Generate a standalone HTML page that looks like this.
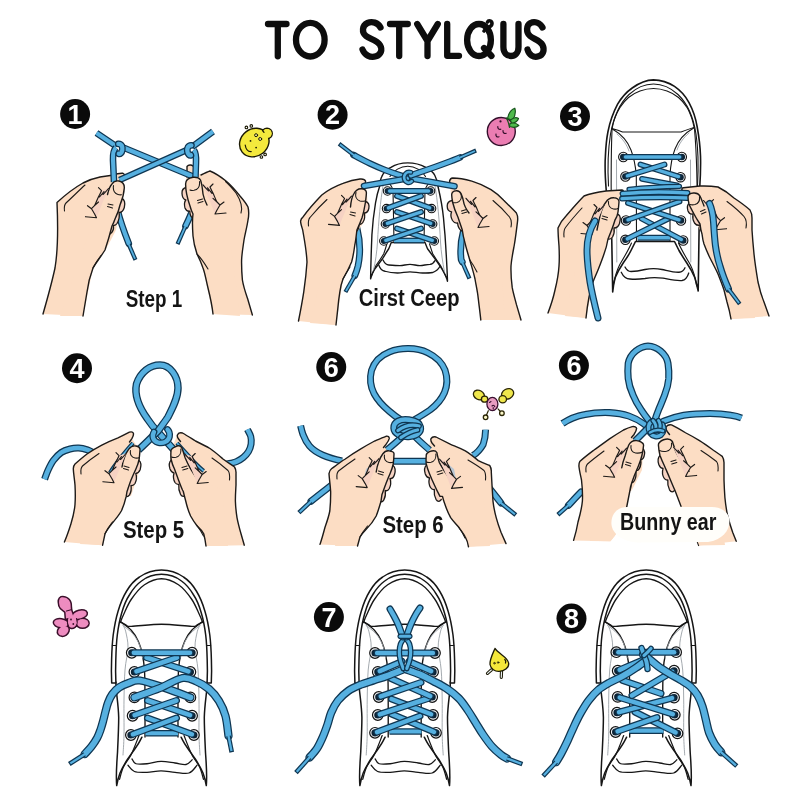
<!DOCTYPE html>
<html><head><meta charset="utf-8"><title>How to tie shoelaces</title>
<style>
html,body{margin:0;padding:0;background:#fff;}
body{width:800px;height:800px;overflow:hidden;font-family:"Liberation Sans",sans-serif;}
svg{display:block;will-change:transform;}
.sk{fill:#fcddc4;stroke:#1d1a18;stroke-width:1.4;stroke-linejoin:round;stroke-linecap:round;}
.skf{fill:#fcddc4;stroke:none;}
.sk2{fill:#f6d3c3;stroke:#1d1a18;stroke-width:1.3;stroke-linejoin:round;stroke-linecap:round;}
.ln{fill:none;stroke:#1d1a18;stroke-width:1.4;stroke-linejoin:round;stroke-linecap:round;}
.lt{fill:none;stroke:#1d1a18;stroke-width:1.1;stroke-linejoin:round;stroke-linecap:round;}
.sh{fill:#fff;stroke:#161616;stroke-width:1.6;stroke-linejoin:round;stroke-linecap:round;}
.shl{fill:none;stroke:#161616;stroke-width:1.3;stroke-linejoin:round;stroke-linecap:round;}
.gl{fill:none;stroke:#9aa0a6;stroke-width:0.9;stroke-linejoin:round;stroke-linecap:round;}
.ey{fill:#2a3a4a;stroke:#161616;stroke-width:1.1;}
.lbl{font-family:"Liberation Sans",sans-serif;font-weight:bold;fill:#141414;}
.num{font-family:"Liberation Sans",sans-serif;font-weight:bold;fill:#fff;text-anchor:middle;}
.ttl{fill:none;stroke:#0d0d0d;stroke-width:6.3;stroke-linecap:round;stroke-linejoin:round;}
</style></head><body>
<svg width="800" height="800" viewBox="0 0 800 800">
<rect width="800" height="800" fill="#ffffff"/>
<!-- 05_defs.svg -->
<defs>
<g id="shoeB">
<!-- body -->
<path fill="#fff" stroke="none" d="M-44.8,215.6 C-45.8,205 -44.6,192 -44,182.5 C-43.4,170 -42.8,158 -42.8,147.5 C-43,137 -44.6,127 -45.5,117.75 L-47,100 L-46,60 L-32,22 L0,3 L32,22 L46,60 L47,100 L45.5,117.75 C44.6,127 43,137 42.8,147.5 C42.8,158 43.4,170 44,182.5 C44.6,192 45.8,205 44.8,215.6 C44,211 43,207 41.5,203 C39.5,198.5 37,194 33.8,189 C31,185 28,181 25,176.5 C23,174 21.5,171 19.6,167.2 L-19.6,167.2 C-21.5,171 -23,174 -25,176.5 C-28,181 -31,185 -33.8,189 C-37,194 -39.5,198.5 -41.5,203 C-43,207 -44,211 -44.8,215.6 Z"/>
<path class="shl" style="stroke-width:1.5" d="M-45.6,112 L-45.5,117.75 C-44.6,127 -43,137 -42.8,147.5 C-42.8,158 -43.4,170 -44,182.5 C-44.6,192 -45.8,205 -44.8,215.6 C-44,211 -43,207 -41.5,203 C-39.5,198.5 -37,194 -33.8,189 C-31,185 -28,181 -25,176.5 C-23,174 -21.5,171 -19.6,167.2"/>
<path class="shl" style="stroke-width:1.5" d="M45.6,112 L45.5,117.75 C44.6,127 43,137 42.8,147.5 C42.8,158 43.4,170 44,182.5 C44.6,192 45.8,205 44.8,215.6 C44,211 43,207 41.5,203 C39.5,198.5 37,194 33.8,189 C31,185 28,181 25,176.5 C23,174 21.5,171 19.6,167.2"/>
<!-- sole band -->
<path class="sh" style="stroke-width:1.5" d="M-49.8,113 C-50.2,105 -50.2,97 -49.9,90 C-49.7,82 -49.3,73 -48.3,65 C-47.2,57 -45.8,49 -43.5,41.5 C-41.5,34.5 -38.8,27.5 -35,21.25 C-31.8,15.8 -27.5,10.5 -22,7 C-15.5,2.5 -8,0 0,0 C8,0 15.5,2.5 22,7 C27.5,10.500 31.8,15.8 35,21.250 C38.8,27.5 41.5,34.5 43.5,41.5 C45.8,49 47.2,57 48.3,65 C49.3,73 49.7,82 49.9,90 C50.2,97 50.2,105 49.8,113 L45.6,113 C46,105 46,97 45.700,90 C45.500,82 45.200,73 44.200,65 C43.200,57 41.900,50 39.800,43 C38,36.500 35.500,30 31.800,24.500 C28.800,19.500 25,14.500 20,11 C14.500,6.500 7.500,4.200 0,4.200 C-7.500,4.200 -14.500,6.500 -20,11 C-25,14.500 -28.800,19.500 -31.800,24.500 C-35.500,30 -38,36.500 -39.800,43 C-41.900,50 -43.200,57 -44.200,65 C-45.200,73 -45.500,82 -45.700,90 C-46,97 -46,105 -45.600,113 Z"/>
<path class="shl" style="stroke-width:1" d="M-49.200,75.500 H-45 M49.200,75.500 H45"/>
<!-- toe cap arc -->
<path d="M-41.20,52.50 C-40.67,51.20 -39.87,48.62 -38.00,44.70 C-36.13,40.78 -33.50,33.98 -30.00,29.00 C-26.50,24.02 -22.00,18.18 -17.00,14.80 C-12.00,11.42 -5.67,8.70 0.00,8.70 C5.67,8.70 12.00,11.42 17.00,14.80 C22.00,18.18 26.50,24.02 30.00,29.00 C33.50,33.98 36.13,40.78 38.00,44.70 C39.87,48.62 40.67,51.20 41.20,52.50" class="shl" style="stroke-width:1.35"/>
<!-- toe cap seam -->
<path d="M-41.20,51.70 C-40.28,52.22 -37.53,54.02 -35.70,54.80 C-33.88,55.58 -36.20,56.50 -30.25,56.40 C-24.30,56.30 -10.08,54.20 0.00,54.20 C10.08,54.20 24.30,56.30 30.25,56.40 C36.20,56.50 33.88,55.58 35.70,54.80 C37.53,54.02 40.28,52.22 41.20,51.70" class="shl" style="stroke-width:1.35"/>
<!-- facing inner edges -->
<path d="M-41.20,51.70 C-39.38,53.13 -33.25,57.04 -30.25,60.30 C-27.25,63.56 -25.02,67.34 -23.20,71.25 C-21.38,75.16 -20.33,78.96 -19.30,83.75 C-18.27,88.54 -17.47,92.29 -17.00,100.00 C-16.53,107.71 -16.58,118.83 -16.50,130.00 C-16.42,141.17 -16.50,160.83 -16.50,167.00" class="shl" style="stroke-width:1.35"/>
<path d="M41.20,51.70 C39.38,53.13 33.25,57.04 30.25,60.30 C27.25,63.56 25.02,67.34 23.20,71.25 C21.38,75.16 20.33,78.96 19.30,83.75 C18.27,88.54 17.47,92.29 17.00,100.00 C16.53,107.71 16.58,118.83 16.50,130.00 C16.42,141.17 16.50,160.83 16.50,167.00" class="shl" style="stroke-width:1.35"/>
<!-- stitches -->
<path d="M-38.00,56.00 C-37.62,56.98 -36.45,58.32 -35.70,61.90 C-34.95,65.48 -33.37,71.15 -33.50,77.50 C-33.63,83.85 -35.83,91.25 -36.50,100.00 C-37.17,108.75 -37.33,119.17 -37.50,130.00 C-37.67,140.83 -37.33,155.83 -37.50,165.00 C-37.67,174.17 -38.33,181.67 -38.50,185.00" class="gl"/>
<path d="M38.00,56.00 C37.62,56.98 36.45,58.32 35.70,61.90 C34.95,65.48 33.37,71.15 33.50,77.50 C33.63,83.85 35.83,91.25 36.50,100.00 C37.17,108.75 37.33,119.17 37.50,130.00 C37.67,140.83 37.33,155.83 37.50,165.00 C37.67,174.17 38.33,181.67 38.50,185.00" class="gl"/>
<path d="M-39.00,55.00 C-37.25,56.50 -31.33,60.67 -28.50,64.00 C-25.67,67.33 -23.58,71.00 -22.00,75.00 C-20.42,79.00 -19.50,85.83 -19.00,88.00" class="gl"/>
<path d="M39.00,55.00 C37.25,56.50 31.33,60.67 28.50,64.00 C25.67,67.33 23.58,71.00 22.00,75.00 C20.42,79.00 19.50,85.83 19.00,88.00" class="gl"/>
<!-- flap bands -->
<path d="M-22.50,165.60 C-23.79,168.73 -27.65,179.17 -30.25,184.40 C-32.85,189.63 -36.14,192.83 -38.10,197.00 C-40.06,201.17 -41.35,207.33 -42.00,209.40" class="shl" style="stroke-width:1.25"/>
<path d="M22.50,165.60 C23.79,168.73 27.65,179.17 30.25,184.40 C32.85,189.63 36.14,192.83 38.10,197.00 C40.06,201.17 41.35,207.33 42.00,209.40" class="shl" style="stroke-width:1.25"/>
<!-- heel lines -->
<path d="M-29.50,189.00 C-28.83,189.79 -28.00,192.96 -25.50,193.75 C-23.00,194.54 -18.67,194.14 -14.50,193.75 C-10.33,193.36 -5.17,191.53 -0.50,191.40 C4.17,191.28 9.33,192.48 13.50,193.00 C17.67,193.52 21.63,195.03 24.50,194.50 C27.37,193.97 29.67,190.58 30.70,189.80" class="shl" style="stroke-width:1.3"/>
<path d="M-33.50,195.30 C-32.43,196.33 -30.27,200.33 -27.10,201.50 C-23.93,202.67 -18.93,202.42 -14.50,202.30 C-10.07,202.18 -5.17,200.80 -0.50,200.80 C4.17,200.80 8.83,201.93 13.50,202.30 C18.17,202.67 23.83,204.17 27.50,203.00 C31.17,201.83 34.17,196.58 35.50,195.30" class="shl" style="stroke-width:1.3"/>
</g>
<g id="eye"><circle r="5.3" fill="#f7f8fa" stroke="#141414" stroke-width="1.2"/><circle r="3.6" fill="#0d2436"/></g>
<g id="creaseR">
<path d="M9.5,7 L17,9.7 C18,12 19,14 20,15.7 C21.5,19 22.5,22 24,24.7 L27,27.7 C26,29.5 25,31 24,32.7 L22,36.7 C20.5,33 18.5,28 16.5,23 C14,17 11.5,11.5 9.5,7 Z" fill="#f6d2c3" stroke="none"/>
<path class="lt" style="stroke-width:1.15" d="M20,6.7 L17,9.7 C18,12 19,14 20,15.7 C21.5,19 22.5,22 24,24.7 L27,27.7 L31,24.7 M27,27.7 C26,29.5 25,31 24,32.7 L22,36.7 L33,35.7 M10,7.5 C11.5,9.5 13.500,11.500 15.500,13.500 M14.500,10.500 L19,16 M20,21 L24,24.700"/>
</g>
</defs>

<!-- 10_title.svg -->
<g class="ttl">
<path d="M268,24 H286.5 M277.8,24 V56.3"/>
<ellipse cx="310.3" cy="39.7" rx="14.3" ry="16.8"/>
<path d="M380.5,27.5 C378,22.5 372,21 367.5,23 C362,25.5 361.5,32.5 366,36 C370,39 377,40 380,45 C383,50 380.5,55 376,56.3 C370,58 364.5,55 362.5,49.5"/>
<path d="M390,24 H407.8 M399.2,24 V56"/>
<path d="M417.2,24 L427.5,41 L437.8,24 M427.5,41 V56"/>
<path d="M447.2,24 V55.8 H459"/>
<ellipse cx="479" cy="40" rx="11.9" ry="16"/>
<path d="M484,48 L491.5,56" />
<path d="M484,31 C486,27 492,28 492,23.5 C492,20.5 488.5,20 487.5,22" style="stroke-width:3.6"/>
<path d="M503.4,24 V47 C503.4,59 518.5,59 518.5,47 V24"/>
<path d="M542.5,27.5 C540,22.5 534.5,21 530.5,23 C526,25.5 526,32.5 530,36 C533.5,39 540,40 542.5,45 C545,50 543,55 538.5,56.3 C533.5,58 529,55 527.5,49.5"/>
</g>

<!-- 20_badges.svg -->
<g>
<circle cx="75.1" cy="114" r="15" fill="#0a0a0a"/><text class="num" x="75.1" y="123.60" font-size="27">1</text>
<circle cx="332.6" cy="114.75" r="15" fill="#0a0a0a"/><text class="num" x="332.6" y="124.35" font-size="27">2</text>
<circle cx="575" cy="116.25" r="15" fill="#0a0a0a"/><text class="num" x="575" y="125.85" font-size="27">3</text>
<circle cx="77" cy="368.25" r="15" fill="#0a0a0a"/><text class="num" x="77" y="377.85" font-size="27">4</text>
<circle cx="331.25" cy="367.1" r="15" fill="#0a0a0a"/><text class="num" x="331.25" y="376.70" font-size="27">6</text>
<circle cx="573.9" cy="365.5" r="15" fill="#0a0a0a"/><text class="num" x="573.9" y="375.10" font-size="27">6</text>
<circle cx="328.9" cy="617.1" r="15" fill="#0a0a0a"/><text class="num" x="328.9" y="626.70" font-size="27">7</text>
<circle cx="571.5" cy="618.6" r="15" fill="#0a0a0a"/><text class="num" x="571.5" y="628.20" font-size="27">8</text>
</g>

<!-- 31_c1.svg -->
<g id="c1">
<!-- dangling lace ends (behind hands) -->
<path d="M117.5,210 C120.5,222 125,234 128.750,243.5" fill="none" stroke="#0f3652" stroke-width="6.70" stroke-linecap="round" stroke-linejoin="round"/><path d="M117.5,210 C120.5,222 125,234 128.750,243.5" fill="none" stroke="#56b0e0" stroke-width="4.20" stroke-linecap="round" stroke-linejoin="round"/>
<path d="M128.75,244.40 L135.48,259.85" stroke="#0f3652" stroke-width="4.20" fill="none"/><path d="M128.55,243.94 L135.00,258.75" stroke="#56b0e0" stroke-width="1.80" fill="none"/>
<path d="M193,208 C191,215 188,221 185.5,226" fill="none" stroke="#0f3652" stroke-width="6.70" stroke-linecap="round" stroke-linejoin="round"/><path d="M193,208 C191,215 188,221 185.5,226" fill="none" stroke="#56b0e0" stroke-width="4.20" stroke-linecap="round" stroke-linejoin="round"/>
<path d="M185.30,226.50 L177.51,244.10" stroke="#0f3652" stroke-width="4.20" fill="none"/><path d="M185.50,226.04 L178.00,243.00" stroke="#56b0e0" stroke-width="1.80" fill="none"/>
<!-- left hand -->
<path class="skf" d="M43,314 C47,300 52,282 55,268 C58,250 58,225 57,202.500 C63,197 74,188 83,183 C89,180 95,178 100,177 L112,175.300 C116,174 120,173 123,173.300 C125,174 125,176 124,177.500 L121,182 L124,190 L116,230 C113,236 109,244 105,250 C100,258 95,264 93,268 C90,276 88,284 87,292 L83,316 Z"/>
<path class="sk2" d="M121.500,198.500 C124.500,199 125.500,203 124.300,207.500 C123.300,211 121,212.500 119,212.500 C119.800,216 119,220 117,223.500 C116,225 114.500,225.500 113.500,225.500 C113.800,229 112.500,232.500 110,234 L106,232 L114,205 Z"/>
<path class="ln" d="M43,314 C47,300 52,282 55,268 C58,250 58,225 57,202.500 C63,197 74,188 83,183 C89,180 95,178 100,177 L112,175.300 C116,174 120,173 123,173.300 C125,174 125,176 124,177.500 L121.500,181.500"/>
<path class="lt" d="M64.5,211 C64,207 64.5,204.5 66,203 C72,197.5 79,190.5 85,185"/>
<!-- right hand -->
<path class="skf" d="M213,314 C212,305 210,296 208,288 C206,280 205,273 203,268 C201,262 199,258 197,254 C195,248 193.5,242 193,236 L192,218 L185,205 L183,192 L186,182 L187,166 C189,164.5 191,164.5 193,166 L197,172 L201,175 C204,173.5 207,172 210,171 C216,173.500 221,177 226,181 C231,185 236,191 240,196 C243,199.500 246,203 248,207 C249,211 249,215 248,220 C247,227 245,234 244,240 C243,247 241.800,254 241.600,260 C241.500,267 241.800,274 242.400,280 C243.500,287 246,294 248,300 L252.400,315 Z"/>
<path class="sk2" d="M186.500,187.500 C183,188 181.800,190.500 182,193.500 C182.200,197 183.500,199.500 185.800,200 C184.200,202 184.200,205 185,208 C186,210.500 188,211.500 189.800,211.200 C189.800,214 191,217 193,218.500 L197,214 L192,190 Z"/>
<path class="ln" d="M187,177 L187,166.500 C188.500,164.500 191.500,164.500 193,166 L196.500,172 M201,175 C204,173.500 207,172 210,171 C216,173.500 221,177 226,181 C231,185 236,191 240,196 C243,199.500 246,203 248,207 C249,211 249,215 248,220 C247,227 245,234 244,240 C243,247 241.800,254 241.600,260 C241.500,267 241.800,274 242.400,280 C243.500,287 246,294 248,300 L252.400,315"/>
<path class="lt" d="M241,213 C243,207 241,201 236,193 C232.5,188.5 229,184.5 225.5,181.5"/>
<!-- crossing laces -->
<path d="M96.5,133 L116.5,146.5 M122,147 L193,176.5" fill="none" stroke="#0f3652" stroke-width="6.60" stroke-linecap="butt" stroke-linejoin="round"/><path d="M96.5,133 L116.5,146.5 M122,147 L193,176.5" fill="none" stroke="#56b0e0" stroke-width="4.10" stroke-linecap="butt" stroke-linejoin="round"/>
<path d="M119.5,180 L189,149" fill="none" stroke="#0f3652" stroke-width="6.60" stroke-linecap="butt" stroke-linejoin="round"/><path d="M119.5,180 L189,149" fill="none" stroke="#56b0e0" stroke-width="4.10" stroke-linecap="butt" stroke-linejoin="round"/>
<path d="M213,131.5 L192,147" fill="none" stroke="#0f3652" stroke-width="6.60" stroke-linecap="butt" stroke-linejoin="round"/><path d="M213,131.5 L192,147" fill="none" stroke="#56b0e0" stroke-width="4.10" stroke-linecap="butt" stroke-linejoin="round"/>
<path d="M116,147.5 C113.5,150 112.8,155 113,160 L114,182" fill="none" stroke="#0f3652" stroke-width="6.60" stroke-linecap="butt" stroke-linejoin="round"/><path d="M116,147.5 C113.5,150 112.8,155 113,160 L114,182" fill="none" stroke="#56b0e0" stroke-width="4.10" stroke-linecap="butt" stroke-linejoin="round"/>
<path d="M194,150 C196,153 196.2,158 196,162 L195.5,177" fill="none" stroke="#0f3652" stroke-width="6.60" stroke-linecap="butt" stroke-linejoin="round"/><path d="M194,150 C196,153 196.2,158 196,162 L195.5,177" fill="none" stroke="#56b0e0" stroke-width="4.10" stroke-linecap="butt" stroke-linejoin="round"/>
<!-- knots -->
<path d="M118.3,143.8 C121.6,143.6 122.8,146.8 122.3,150 C121.8,153.2 120,154.3 118.8,153.8" fill="none" stroke="#0f3652" stroke-width="6.80" stroke-linecap="round" stroke-linejoin="round"/><path d="M118.3,143.8 C121.6,143.6 122.8,146.8 122.3,150 C121.8,153.2 120,154.3 118.8,153.8" fill="none" stroke="#56b0e0" stroke-width="4.30" stroke-linecap="round" stroke-linejoin="round"/>
<path d="M191.4,145.3 C188.1,145.1 186.9,148.3 187.4,151.5 C187.9,154.7 189.7,155.800 190.900,155.300" fill="none" stroke="#0f3652" stroke-width="6.80" stroke-linecap="round" stroke-linejoin="round"/><path d="M191.4,145.3 C188.1,145.1 186.9,148.3 187.4,151.5 C187.9,154.7 189.7,155.800 190.900,155.300" fill="none" stroke="#56b0e0" stroke-width="4.30" stroke-linecap="round" stroke-linejoin="round"/>
<!-- thumbs on top -->
<path class="skf" d="M107.500,194 C108.500,190 110,186 112,184 C113.500,181.500 116,180.500 119,181 C122.500,181.800 124.500,184 124.300,188 C124,193 123,198 120,205 C119,210 117,215 115,219 C114,222 113,224 112,226 C110,234 107,244 105,250 L96,262 L93,268 L83,316 L60,316 L90,230 Z"/>
<path class="ln" d="M107.500,194.500 C108.500,190 110,186 112,184 C113.500,181.500 116,180.500 119,181 C122.500,181.800 124.500,184 124.300,188 C124,193 123,198 120,205 C119,210 117,215 115,219 C114,222 113,224 112,226 C110,234 107,244 105,250 C100,258 95,264 93,268 C90,276 88,284 87,292 L83,316"/>
<path class="lt" d="M113.500,185.500 C112.800,190 114.500,193.500 118,194.500 C119.500,195 120.500,195 121.500,194.800 M108,204 L113,205 M107.500,206.500 L112.500,208 M93,268 C96,262 99,258 101,255.500"/>
<path class="skf" d="M207,205 C205,201 203.500,197 203,194 C202.500,189 202,184 200.500,180 C199,177.500 196,177 193,177.300 C189,178 185.600,180 185.600,184 C185.600,190 186.500,196 190,206 C191,210 192,212 193,214 L193,236 C193.500,242 195,248 197,254 L203,268 L213,314 L240,316 L230,240 Z"/>
<path class="ln" d="M207,205 C205,201 203.500,197 203,194 C202.500,189 202,184 200.500,180 C199,177.500 196,177 193,177.300 C189,178 185.600,180 185.600,184 C185.600,190 186.500,196 190,206 C191,210 192,212 193,214 C192,221 192.500,229 193,236 C193.500,242 195,248 197,254 C199,258 201,262 203,268 C205,273 206,280 208,288 C210,296 212,305 213,314"/>
<path class="lt" d="M199.500,181.500 C200,186 198,189.500 194,190.300 C192,190.600 191,190.500 190,190 M197.500,200.500 L202.500,199 M198,203 L203,201.500 M197,254 C201,258 205,264 208,269"/>
<!-- creases -->
<use href="#creaseR" transform="translate(118.5,181) scale(-1,1)"/>
<use href="#creaseR" transform="translate(193,177.3)"/>
</g>

<!-- 32_c2.svg -->
<g id="c2">
<!-- shoe -->
<path class="sh" style="stroke-width:1.4" d="M379.6,186.5 C380,181 381,178 381.9,176.4 C384,171.5 387,169 390.9,167.4 C396,164.2 402,162.9 407.75,162.9 C414,162.9 420,164.2 425.75,167.4 C430,169.5 433,172 434.75,175.25 C436.5,178.5 437.5,182 438,186.5 C440.5,197 442.5,208 443.5,218 C444.5,230 445,235 445,235 C446,250 447,265 447.5,281.25 C446.5,277 444.5,273.5 442.5,270 C440,266 437.5,262.5 435,258.75 C432.5,255.5 430,252 427.5,248.75 L425,242.5 L391.25,242.5 L388.75,248.75 C386.500,252 384.500,255.500 382.500,258.750 C380,262 377.500,265.500 375,268.750 C373,272 371.500,275 370.600,278.750 C370.800,265 371.300,250 371.900,235 C372.500,225 374,212 375.500,203 C376.500,197 378,191 379.600,186.500 Z"/>
<path class="shl" style="stroke-width:1.1" d="M390,176.500 C393.500,170.500 400.500,166.250 407.750,166.250 C415,166.250 422,170.500 425.500,176.500"/>
<path class="shl" style="stroke-width:1.3" d="M383,260 C384.500,263 386.500,265 388.750,265 C392.500,265.300 396.500,265.600 400,265.600 C403.500,265.500 406.500,264.400 410,264.400 C413.500,264.400 416.500,265.600 420,265.600 C423.500,265.500 426.500,264.400 430,264.400 C432.500,264 434,262.500 435,260.600"/>
<path class="shl" style="stroke-width:1.3" d="M378.750,265 C380,268.500 382.500,271 385,271.250 C389,272.500 393.500,273 397.500,273 C401.500,273 406,271.900 410,271.900 C414,271.900 418.500,273 422.500,273 C426,273 429.500,273 432.500,272.500 C436,271.500 438.500,269 440,266.250"/>
<path class="shl" style="stroke-width:1.1" d="M386.900,243.750 C386,247 385,250.500 383.750,253.750 C381.500,257.500 379,261.500 376.250,265 C374.500,268 373,271.500 371.900,275 M429.500,243.750 C430.500,247 431.500,250.500 432.750,253.750 C435,257.500 437.500,261.500 440.250,265 C442,268 443.500,271.500 446,276.500"/>
<path class="gl" d="M383,186 C380.500,200 378.500,222 377.500,242 C376.800,252 375.500,262 373.500,270 M435,186 C437.500,200 439.500,222 440.500,242 C441.200,252 442.500,262 444.500,272"/>
<path class="shl" style="stroke-width:1.1" d="M382.500,185 C386,180.500 390,182 393,190 L394,242.500 M435.500,185 C432,180.500 428,182 425,190 L424,242.500"/>
<!-- eyelets -->
<g><circle cx="387.5" cy="191" r="4.2" fill="#f7f8fa" stroke="#141414" stroke-width="1.1"/><circle cx="387.5" cy="191" r="2.9" fill="#0d2436"/><circle cx="386.5" cy="208.6" r="4.2" fill="#f7f8fa" stroke="#141414" stroke-width="1.1"/><circle cx="386.5" cy="208.6" r="2.9" fill="#0d2436"/><circle cx="385.4" cy="224" r="4.2" fill="#f7f8fa" stroke="#141414" stroke-width="1.1"/><circle cx="385.4" cy="224" r="2.9" fill="#0d2436"/><circle cx="383.8" cy="241" r="4.2" fill="#f7f8fa" stroke="#141414" stroke-width="1.1"/><circle cx="383.8" cy="241" r="2.9" fill="#0d2436"/><circle cx="430.6" cy="191" r="4.2" fill="#f7f8fa" stroke="#141414" stroke-width="1.1"/><circle cx="430.6" cy="191" r="2.9" fill="#0d2436"/><circle cx="431.6" cy="208.6" r="4.2" fill="#f7f8fa" stroke="#141414" stroke-width="1.1"/><circle cx="431.6" cy="208.6" r="2.9" fill="#0d2436"/><circle cx="432.7" cy="224" r="4.2" fill="#f7f8fa" stroke="#141414" stroke-width="1.1"/><circle cx="432.7" cy="224" r="2.9" fill="#0d2436"/><circle cx="434.3" cy="241" r="4.2" fill="#f7f8fa" stroke="#141414" stroke-width="1.1"/><circle cx="434.3" cy="241" r="2.9" fill="#0d2436"/></g>
<!-- shoe laces -->
<path d="M394,240.500 H424" fill="none" stroke="#0f3652" stroke-width="5.70" stroke-linecap="butt" stroke-linejoin="round"/><path d="M394,240.500 H424" fill="none" stroke="#56b0e0" stroke-width="3.20" stroke-linecap="butt" stroke-linejoin="round"/>
<path d="M432.31,240.33 L397.00,228.50" fill="none" stroke="#0f3652" stroke-width="5.90" stroke-linecap="round" stroke-linejoin="round"/><path d="M432.31,240.33 L397.00,228.50" fill="none" stroke="#56b0e0" stroke-width="3.40" stroke-linecap="round" stroke-linejoin="round"/>
<path d="M385.79,240.33 L421.00,228.50" fill="none" stroke="#0f3652" stroke-width="5.90" stroke-linecap="round" stroke-linejoin="round"/><path d="M385.79,240.33 L421.00,228.50" fill="none" stroke="#56b0e0" stroke-width="3.40" stroke-linecap="round" stroke-linejoin="round"/>
<path d="M430.71,223.33 L397.00,212.00" fill="none" stroke="#0f3652" stroke-width="5.90" stroke-linecap="round" stroke-linejoin="round"/><path d="M430.71,223.33 L397.00,212.00" fill="none" stroke="#56b0e0" stroke-width="3.40" stroke-linecap="round" stroke-linejoin="round"/>
<path d="M387.39,223.33 L421.00,212.00" fill="none" stroke="#0f3652" stroke-width="5.90" stroke-linecap="round" stroke-linejoin="round"/><path d="M387.39,223.33 L421.00,212.00" fill="none" stroke="#56b0e0" stroke-width="3.40" stroke-linecap="round" stroke-linejoin="round"/>
<path d="M429.63,207.88 L397.00,196.00" fill="none" stroke="#0f3652" stroke-width="5.90" stroke-linecap="round" stroke-linejoin="round"/><path d="M429.63,207.88 L397.00,196.00" fill="none" stroke="#56b0e0" stroke-width="3.40" stroke-linecap="round" stroke-linejoin="round"/>
<path d="M388.47,207.88 L421.00,196.00" fill="none" stroke="#0f3652" stroke-width="5.90" stroke-linecap="round" stroke-linejoin="round"/><path d="M388.47,207.88 L421.00,196.00" fill="none" stroke="#56b0e0" stroke-width="3.40" stroke-linecap="round" stroke-linejoin="round"/>
<path d="M389.60,191.00 L428.50,191.00" fill="none" stroke="#0f3652" stroke-width="5.90" stroke-linecap="round" stroke-linejoin="round"/><path d="M389.60,191.00 L428.50,191.00" fill="none" stroke="#56b0e0" stroke-width="3.40" stroke-linecap="round" stroke-linejoin="round"/>
<!-- hanging ends -->
<path d="M357,228 C360,240 361,252 358,266 C357,270 356,273 354.800,275.700" fill="none" stroke="#0f3652" stroke-width="6.80" stroke-linecap="round" stroke-linejoin="round"/><path d="M357,228 C360,240 361,252 358,266 C357,270 356,273 354.800,275.700" fill="none" stroke="#56b0e0" stroke-width="4.30" stroke-linecap="round" stroke-linejoin="round"/>
<path d="M354.80,275.70 L345.40,292.04" stroke="#0f3652" stroke-width="4.20" fill="none"/><path d="M355.05,275.27 L346.00,291.00" stroke="#56b0e0" stroke-width="1.80" fill="none"/>
<path d="M463.400,231 C461,240 460,250 461.200,259.800 L462.300,262" fill="none" stroke="#0f3652" stroke-width="6.80" stroke-linecap="round" stroke-linejoin="round"/><path d="M463.400,231 C461,240 460,250 461.200,259.800 L462.300,262" fill="none" stroke="#56b0e0" stroke-width="4.30" stroke-linecap="round" stroke-linejoin="round"/>
<path d="M462.60,263.00 L469.48,278.60" stroke="#0f3652" stroke-width="4.20" fill="none"/><path d="M462.40,262.54 L469.00,277.50" stroke="#56b0e0" stroke-width="1.80" fill="none"/>
<!-- left hand -->
<path class="sk" style="stroke:none" d="M298.500,321 C300.500,311 302.500,300 303.800,291.600 C305.500,280 306.500,270 307,262 C306.500,250 304,238 302.700,230 C301.500,226 300.500,223 300.600,221 C301,219 301.500,218 302.700,217.300 C308,210 315,202 321.800,195 C328,190 336,186 343,183.400 C349,181 355,179.500 360,179 C362.500,178.800 365,179.500 365.500,181 L368,205 L364,222 L357,232 C356,238 355.500,242 354.800,245 C354,251 353,257 351.600,262 C349,268 346,274 343,279 C341.500,283 340.500,287 339.900,291.600 C339,297 338.300,303 337.800,308.600 L336,325 Z"/>
<path class="sk2" d="M365.600,201.500 C368.500,202 369.500,205 368.800,208.500 C368.200,211.500 366.200,213 364.200,213 C365.200,216.500 364.500,220 362.800,222.500 C361.800,224 360.200,224.500 359,224 C359,227.500 358.200,230 356.500,231.500 L352,228 L358,205 Z"/>
<path class="ln" d="M298.500,321 C300.500,311 302.500,300 303.800,291.600 C305.500,280 306.500,270 307,262 C306.500,250 304,238 302.700,230 C301.500,226 300.500,223 300.600,221 C301,219 301.500,218 302.700,217.300 C308,210 315,202 321.800,195 C328,190 336,186 343,183.400 C349,181 355,179.500 360,179 C362.500,178.800 365,179.500 365.500,181 C365.800,183.500 364.500,185.500 363,187"/>
<path class="lt" d="M308.5,226 C308,221 308.5,219 310,217.5 C315,211.5 321,205 327,199.5"/>
<!-- right hand -->
<path class="sk" style="stroke:none" d="M480.800,320 C480,312 479,305 478.200,298 C477.500,291 476,285 475,279 C473.500,272 471.500,266 469.700,259.800 C468,254 466.500,249 465.500,245 L463.400,232.200 L456,222 L452,205 L449.600,181 C450,179 451,178.200 452.700,178 C459,178 466,179.500 471.800,181.200 C478.500,183.200 485,186 491,189.700 C495.500,192.500 500,196.500 503.700,200.300 C508,204.500 513,209 516.400,213 C517.500,215 518,218 517.500,221.600 C516.500,230 515.500,238 514.300,245 C513,252 511.500,259 511,266 C510.800,273 511.200,280 512.200,287.400 C513.200,293 515,299 516.400,304.400 L521,320 Z"/>
<path class="sk2" d="M452.200,200.500 C449.200,201 447.200,203 447.200,206 C447.200,209.500 449,211.500 451.600,211.800 C450.500,214.500 451,218 452.500,220.500 C453.800,222.500 456,223.300 457.600,223 C457.800,226.500 459.500,229.500 461.800,231 L466,227 L460,204 Z"/>
<path class="ln" d="M455,187 C451.500,185.500 449.500,183.500 449.600,181 C450,179 451,178.200 452.700,178 C459,178 466,179.500 471.800,181.200 C478.500,183.200 485,186 491,189.700 C495.500,192.500 500,196.500 503.700,200.300 C508,204.500 513,209 516.400,213 C517.500,215 518,218 517.500,221.600 C516.500,230 515.500,238 514.300,245 C513,252 511.500,259 511,266 C510.800,273 511.200,280 512.200,287.400 C513.200,293 515,299 516.400,304.400 L521,320"/>
<path class="lt" d="M511,227 C512,222 511,219 509.5,217 C505,211.5 499,205.5 493,200.5"/>
<!-- main laces -->
<path d="M454.5,186.3 L411.500,178.500" fill="none" stroke="#0f3652" stroke-width="6.60" stroke-linecap="round" stroke-linejoin="round"/><path d="M454.5,186.3 L411.500,178.500" fill="none" stroke="#56b0e0" stroke-width="4.10" stroke-linecap="round" stroke-linejoin="round"/>
<path d="M408.00,177.50 C407.00,177.25 405.83,177.25 402.00,176.00 C398.17,174.75 390.33,172.08 385.00,170.00 C379.67,167.92 375.25,166.00 370.00,163.50 C364.75,161.00 356.25,156.42 353.50,155.00" fill="none" stroke="#0f3652" stroke-width="6.60" stroke-linecap="round" stroke-linejoin="round"/><path d="M408.00,177.50 C407.00,177.25 405.83,177.25 402.00,176.00 C398.17,174.75 390.33,172.08 385.00,170.00 C379.67,167.92 375.25,166.00 370.00,163.50 C364.75,161.00 356.25,156.42 353.50,155.00" fill="none" stroke="#56b0e0" stroke-width="4.10" stroke-linecap="round" stroke-linejoin="round"/>
<path d="M353.80,155.20 L339.05,143.76" stroke="#0f3652" stroke-width="4.20" fill="none"/><path d="M354.20,155.51 L340.00,144.50" stroke="#56b0e0" stroke-width="1.80" fill="none"/>
<path d="M364,186 L407,178.500" fill="none" stroke="#0f3652" stroke-width="6.60" stroke-linecap="round" stroke-linejoin="round"/><path d="M364,186 L407,178.500" fill="none" stroke="#56b0e0" stroke-width="4.10" stroke-linecap="round" stroke-linejoin="round"/>
<path d="M411.00,175.30 C415.00,173.92 428.50,169.30 435.00,167.00 C441.50,164.70 445.83,163.08 450.00,161.50 C454.17,159.92 458.33,158.17 460.00,157.50" fill="none" stroke="#0f3652" stroke-width="6.60" stroke-linecap="round" stroke-linejoin="round"/><path d="M411.00,175.30 C415.00,173.92 428.50,169.30 435.00,167.00 C441.50,164.70 445.83,163.08 450.00,161.50 C454.17,159.92 458.33,158.17 460.00,157.50" fill="none" stroke="#56b0e0" stroke-width="4.10" stroke-linecap="round" stroke-linejoin="round"/>
<path d="M459.70,157.60 L476.10,150.52" stroke="#0f3652" stroke-width="4.20" fill="none"/><path d="M459.24,157.80 L475.00,151.00" stroke="#56b0e0" stroke-width="1.80" fill="none"/>
<path d="M410.8,172.3 C406.5,171 403.3,175 404.3,179 C405.3,182.8 409.5,183.800 411.800,181.200" fill="none" stroke="#0f3652" stroke-width="5.00" stroke-linecap="round" stroke-linejoin="round"/><path d="M410.8,172.3 C406.5,171 403.3,175 404.3,179 C405.3,182.8 409.5,183.800 411.800,181.200" fill="none" stroke="#56b0e0" stroke-width="2.50" stroke-linecap="round" stroke-linejoin="round"/>
<!-- thumbs -->
<path class="skf" d="M350.500,206.700 C351,201 352,197 353.700,194 C355.500,190.500 358.500,188.500 361.500,188.700 C364.500,189 366.500,190.500 366.400,193 C366.300,196 365.800,199 365.400,202.500 C364.500,208 363.500,213 362.200,217.300 C360.500,222 358.500,226.500 356.900,230 L354.800,245 L351.600,262 L343,279 L336,325 L310,323 L330,240 Z"/>
<path class="ln" d="M350.500,207 C351,201 352,197 353.700,194 C355.500,190.500 358.500,188.500 361.500,188.700 C364.500,189 366.500,190.500 366.400,193 C366.300,196 365.800,199 365.400,202.500 C364.500,208 363.500,213 362.200,217.300 C360.500,222 358.500,226.500 356.900,230 C356,238 355.500,242 354.800,245 C354,251 353,257 351.600,262 C349,268 346,274 343,279 C341.500,283 340.500,287 339.900,291.600 C339,297 338.300,303 337.800,308.600 L336,325"/>
<path class="lt" d="M356,192.500 C355,196.500 356.500,200 360,201 C362,201.500 364,201.200 365,201 M350.500,212 L355.500,213 M350,214.500 L355,216 M343,279 C345.500,274 348,270 350,267"/>
<path class="skf" d="M469,213 C466,209 464,205 463.400,201 C463,198 462,196 461.200,194 C460,191.500 458,190.500 456,190.800 C453.500,191 451.500,192.500 451.700,195 C451.800,197.500 452.200,200 452.700,202.500 C454,208 456,213 458,217.300 C459.500,222 461,226 462.300,230 L465.500,245 L469.700,259.800 L475,279 L480.800,320 L505,320 L500,250 Z"/>
<path class="ln" d="M469,213 C466,209 464,205 463.400,201 C463,198 462,196 461.200,194 C460,191.500 458,190.500 456,190.800 C453.500,191 451.500,192.500 451.700,195 C451.800,197.500 452.200,200 452.700,202.500 C454,208 456,213 458,217.300 C459.500,222 461,226 462.300,230 C463,236 464.500,241 465.500,245 C466.500,249 468,254 469.700,259.800 C471.500,266 473.500,272 475,279 C476,285 477.500,291 478.200,298 C479,305 480,312 480.800,320"/>
<path class="lt" d="M461,194 C462,198 460.500,201.500 457,202.500 C455,203 453.500,202.800 452.500,202.500 M461.500,211 L466.500,209.500 M462,213.500 L467,212 M469.700,259.800 C472,263 475,268 477,272"/>
<!-- creases -->
<use href="#creaseR" transform="translate(361.5,188.7) scale(-1,1)"/>
<use href="#creaseR" transform="translate(456,190.8)"/>
</g>

<!-- 33_c3.svg -->
<g id="c3">
<!-- shoe -->
<path class="sh" d="M606.200,190 C605,175 604.800,165 605.400,156 C605.800,147 606.500,139 607.900,132 C610,121 613.500,112 617.600,104.200 C621.500,97.500 626.500,92 632.200,88 C638.500,83.500 646,80 653.400,79.900 C661,80 668.500,82.500 674.500,86.400 C680.500,90.500 685.500,96 689,102.600 C693,110 695.800,118.500 697.200,127 C699,137 700.200,147 700.500,156 C700.800,166 700.500,176 699.700,188 L698.200,291 C697,286 696,281.500 694.750,277.500 C692.500,272 689.500,267 686.500,262.500 C683.500,258 681,254 679,250.500 L674.500,241.500 L635.500,241.500 L631,250.500 C629,254.500 626.500,258.500 623.500,262.500 C620.500,267 617.500,272 615.250,277.500 C614,281.500 613.200,286 612.700,292 L611.500,225 Z"/>
<path class="shl" style="stroke-width:1.1" d="M608.500,186 C607.500,168 608,150 610.500,134 C613.500,118 619,104 629,94.500 C636,88 645,84 653.500,84 C662,84 671,88 678,94.500 C688,104 693.500,118 696,134 C698.500,150 698.500,168 697.500,186"/>
<path class="shl" style="stroke-width:1.1" d="M611.500,225 C611,190 610.800,160 612,130 M697,225 C697.500,190 697.200,160 694.500,129"/>
<path d="M612.00,129.00 C612.42,127.33 613.17,122.58 614.50,119.00 C615.83,115.42 617.67,111.08 620.00,107.50 C622.33,103.92 625.17,100.25 628.50,97.50 C631.83,94.75 635.83,92.50 640.00,91.00 C644.17,89.50 649.00,88.50 653.50,88.50 C658.00,88.50 662.83,89.50 667.00,91.00 C671.17,92.50 675.17,94.75 678.50,97.50 C681.83,100.25 684.75,103.92 687.00,107.50 C689.25,111.08 690.78,115.50 692.00,119.00 C693.22,122.50 693.92,126.92 694.30,128.50" class="shl" style="stroke-width:1.1"/>
<path class="shl" style="stroke-width:1.1" d="M612,128.600 C616,129.500 619.500,130.500 622.500,132 H681 C685,130.500 689,129 694,127.500"/>
<path class="shl" style="stroke-width:1.1" d="M612,128.800 C621,134 628,142 631,150 C634,158 635.500,166 636.300,175 L636.500,241 M694,127.800 C685,133 678,141 675,149 C672,157 670.500,166 670,175 L670,241"/>
<path class="gl" d="M616.500,160 L616.800,262 M690.500,160 L690.800,262 M617,134 C623,139 627,145 629,151 M689,133 C683,138 679,144 677,150"/>
<path class="shl" style="stroke-width:1.100" d="M631.500,243 C628.500,250 624,257.500 619.800,264.500 C616.500,271 614.500,278 613.300,286 M678.500,243 C681.500,250 686,257.500 690.200,264.500 C693.500,271 695.500,278 696.700,286"/>
<path class="shl" style="stroke-width:1.300" d="M625,267 C626.500,270 628,271.500 631,271.500 C635,271.500 640,270.750 645,269.500 C650,268.500 657,268.500 662,269.500 C667,270.500 673,272.500 679,272.250 C682,272 684,270 685,267.750"/>
<path class="shl" style="stroke-width:1.300" d="M621.250,272.250 C623,276 626,279 630,279 C635,279.500 640,279.200 645,278.500 C650,277.500 658,277.500 663,278.200 C668,279 675,281 682,280.500 C685.500,280 687.500,277 688.750,273"/>
<!-- eyelets -->
<g><circle cx="623.3" cy="157" r="4.7" fill="#f7f8fa" stroke="#141414" stroke-width="1.1"/><circle cx="623.3" cy="157" r="3.3" fill="#0d2436"/><circle cx="625.4" cy="176.5" r="4.7" fill="#f7f8fa" stroke="#141414" stroke-width="1.1"/><circle cx="625.4" cy="176.5" r="3.3" fill="#0d2436"/><circle cx="626" cy="220.5" r="4.7" fill="#f7f8fa" stroke="#141414" stroke-width="1.1"/><circle cx="626" cy="220.5" r="3.3" fill="#0d2436"/><circle cx="625.4" cy="239.8" r="4.7" fill="#f7f8fa" stroke="#141414" stroke-width="1.1"/><circle cx="625.4" cy="239.8" r="3.3" fill="#0d2436"/><circle cx="681.8" cy="157" r="4.7" fill="#f7f8fa" stroke="#141414" stroke-width="1.1"/><circle cx="681.8" cy="157" r="3.3" fill="#0d2436"/><circle cx="680.5" cy="177.2" r="4.7" fill="#f7f8fa" stroke="#141414" stroke-width="1.1"/><circle cx="680.5" cy="177.2" r="3.3" fill="#0d2436"/><circle cx="681" cy="220.5" r="4.7" fill="#f7f8fa" stroke="#141414" stroke-width="1.1"/><circle cx="681" cy="220.5" r="3.3" fill="#0d2436"/><circle cx="683.2" cy="240.5" r="4.7" fill="#f7f8fa" stroke="#141414" stroke-width="1.1"/><circle cx="683.2" cy="240.5" r="3.3" fill="#0d2436"/></g>
<!-- lacing -->
<path d="M637.700,237.700 H670" fill="none" stroke="#0f3652" stroke-width="5.90" stroke-linecap="butt" stroke-linejoin="round"/><path d="M637.700,237.700 H670" fill="none" stroke="#56b0e0" stroke-width="3.40" stroke-linecap="butt" stroke-linejoin="round"/>
<path d="M681.34,239.52 L641.50,218.50" fill="none" stroke="#0f3652" stroke-width="5.90" stroke-linecap="round" stroke-linejoin="round"/><path d="M681.34,239.52 L641.50,218.50" fill="none" stroke="#56b0e0" stroke-width="3.40" stroke-linecap="round" stroke-linejoin="round"/>
<path d="M627.28,238.87 L668.50,218.50" fill="none" stroke="#0f3652" stroke-width="5.90" stroke-linecap="round" stroke-linejoin="round"/><path d="M627.28,238.87 L668.50,218.50" fill="none" stroke="#56b0e0" stroke-width="3.40" stroke-linecap="round" stroke-linejoin="round"/>
<path d="M679.01,219.84 L628.00,203.00" fill="none" stroke="#0f3652" stroke-width="5.90" stroke-linecap="round" stroke-linejoin="round"/><path d="M679.01,219.84 L628.00,203.00" fill="none" stroke="#56b0e0" stroke-width="3.40" stroke-linecap="round" stroke-linejoin="round"/>
<path d="M627.98,219.80 L679.50,201.50" fill="none" stroke="#0f3652" stroke-width="5.90" stroke-linecap="round" stroke-linejoin="round"/><path d="M627.98,219.80 L679.50,201.50" fill="none" stroke="#56b0e0" stroke-width="3.40" stroke-linecap="round" stroke-linejoin="round"/>
<path d="M642.06,178.89 L677.00,185.50" fill="none" stroke="#0f3652" stroke-width="5.90" stroke-linecap="round" stroke-linejoin="round"/><path d="M642.06,178.89 L677.00,185.50" fill="none" stroke="#56b0e0" stroke-width="3.40" stroke-linecap="round" stroke-linejoin="round"/>
<path d="M678.50,176.56 L640.50,164.50" fill="none" stroke="#0f3652" stroke-width="5.90" stroke-linecap="round" stroke-linejoin="round"/><path d="M678.50,176.56 L640.50,164.50" fill="none" stroke="#56b0e0" stroke-width="3.40" stroke-linecap="round" stroke-linejoin="round"/>
<path d="M627.41,175.88 L664.50,164.50" fill="none" stroke="#0f3652" stroke-width="5.90" stroke-linecap="round" stroke-linejoin="round"/><path d="M627.41,175.88 L664.50,164.50" fill="none" stroke="#56b0e0" stroke-width="3.40" stroke-linecap="round" stroke-linejoin="round"/>
<path d="M625.40,157.00 L679.70,157.00" fill="none" stroke="#0f3652" stroke-width="5.90" stroke-linecap="round" stroke-linejoin="round"/><path d="M625.40,157.00 L679.70,157.00" fill="none" stroke="#56b0e0" stroke-width="3.40" stroke-linecap="round" stroke-linejoin="round"/>
<path d="M629,189.300 C645,187.500 662,186.500 679.500,186.300" fill="none" stroke="#0f3652" stroke-width="5.20" stroke-linecap="round" stroke-linejoin="round"/><path d="M629,189.300 C645,187.500 662,186.500 679.500,186.300" fill="none" stroke="#56b0e0" stroke-width="2.70" stroke-linecap="round" stroke-linejoin="round"/>
<!-- hanging laces behind? (drawn over hands later) -->
<!-- left hand -->
<path class="sk" style="stroke:none" d="M548,313 C551,305 553.500,297 555,290 C557,282 558.500,274 559,266 C559.500,259 559.300,252 559,246 C558.500,240 558,234 558,228 C560,223 563,219 566,216 C572,209 578,202 584,196 C590,193.500 598,192 606,191 L622,190 C623.500,190.200 624,192 623,193.500 L619,202 L618,220 L613,238 L608,239 C607,245 605.500,250 604,254 C602,260 600,265 598,270 C596,275 594,279 593,282 L586,318 Z"/>
<path class="sk2" d="M618.500,214.500 C620.500,216 620.500,220 619.500,223.500 C618.500,226.500 616,228 614,228 C614.500,231 614,234.500 612.500,237 C611.500,238.500 609.500,239.500 608,239 L604,236 L612,216 Z"/>
<path class="ln" d="M548,313 C551,305 553.500,297 555,290 C557,282 558.500,274 559,266 C559.500,259 559.300,252 559,246 C558.500,240 558,234 558,228 C560,223 563,219 566,216 C572,209 578,202 584,196 C590,193.500 598,192 606,191 L622,190 C623.500,190.200 624,192 623,193.500 L621,196.500"/>
<path class="lt" d="M564,237 C563.5,232 564,229.5 565.5,227.5 C570,221.5 576,214.5 582,208"/>
<!-- right hand -->
<path class="sk" style="stroke:none" d="M731,319 C730,313 728.500,307 727,302 C726,298 725,294 724,290 C722,284 720,279 718,274 C715.500,268.500 712.500,263 710,258 C707.500,253 705.500,248 704,244 L702,234 L696,222 L689,204 L685,194 L682,190 C681.500,188.800 682,188 683.500,187.800 L700,186 C706,185.800 712,186 718,187 C724,190 729.500,194 734,198 C740,202 745.500,206 750,210 C751.500,212.500 752,215 752,218 L752,230 C752.500,238 753.200,246 754,254 C755,264 756.500,273 758,282 C759.500,289 761.500,296 764,302 L769,316 Z"/>
<path class="sk2" d="M689.500,203 C687.500,204.500 687,208 688,211 C689,213.500 691,214.500 693,214 C692.500,217 693,220.500 694.500,223 C696,225 698.500,225.500 700,225 C700,228 701,231.500 703,233.500 L707,230 L697,206 Z"/>
<path class="ln" d="M686.500,195.500 L682,190 C681.500,188.800 682,188 683.500,187.800 L700,186 C706,185.800 712,186 718,187 C724,190 729.500,194 734,198 C740,202 745.500,206 750,210 C751.500,212.500 752,215 752,218 L752,230 C752.500,238 753.200,246 754,254 C755,264 756.500,273 758,282 C759.500,289 761.500,296 764,302 L769,316"/>
<path class="lt" d="M746,228 C747,222.5 746,219 744,216.5 C739.5,211.5 733,206 727,201.5"/>
<!-- held strands -->
<path d="M622.500,193.800 C640,192 665,191.500 687.500,193" fill="none" stroke="#0f3652" stroke-width="5.90" stroke-linecap="round" stroke-linejoin="round"/><path d="M622.500,193.800 C640,192 665,191.500 687.500,193" fill="none" stroke="#56b0e0" stroke-width="3.40" stroke-linecap="round" stroke-linejoin="round"/>
<path d="M622,198.600 C640,197.500 665,197 687.500,198" fill="none" stroke="#0f3652" stroke-width="5.90" stroke-linecap="round" stroke-linejoin="round"/><path d="M622,198.600 C640,197.500 665,197 687.500,198" fill="none" stroke="#56b0e0" stroke-width="3.40" stroke-linecap="round" stroke-linejoin="round"/>
<!-- thumbs -->
<path class="skf" d="M597,230 C598,225 599,220 600,216 C601.500,210 603.500,205 606,202 C608,199 611,197.500 614,197.800 C617,198 619.200,199.500 619,202 C618.800,205 618.500,208 618,212 C617.500,215 616.500,218 615,220 L608,239 L604,254 L598,270 L593,282 L586,318 L565,316 L580,250 Z"/>
<path class="ln" d="M597,230 C598,225 599,220 600,216 C601.500,210 603.500,205 606,202 C608,199 611,197.500 614,197.800 C617,198 619.200,199.500 619,202 C618.800,205 618.500,208 618,212 C617.500,215 616.500,218 615,220 C613,227 610.500,233 608,239 C607,245 605.500,250 604,254 C602,260 600,265 598,270 C596,275 594,279 593,282 C590,290 587.500,304 586,318"/>
<path class="lt" d="M608.500,201.500 C608,205.500 610,208.500 613.500,209 C615.500,209.300 617,209 618,208.500 M602.500,216 L607.500,217.500 M602,218.500 L607,220"/>
<path class="skf" d="M704,206 C702.500,202 701.500,199 700,196 C698.500,193.500 696,192.800 693.500,193 C690.500,193.200 688,194.500 688,197 C688,199.500 688.500,202 689,204 C690.500,208 692.500,211 694,214 C696,218 698,221 700,224 L702,234 L704,244 L710,258 L718,274 L724,290 L731,319 L755,318 L745,250 Z"/>
<path class="ln" d="M704,206 C702.500,202 701.500,199 700,196 C698.500,193.500 696,192.800 693.500,193 C690.500,193.200 688,194.500 688,197 C688,199.500 688.500,202 689,204 C690.500,208 692.500,211 694,214 C696,218 698,221 700,224 C700.500,228 701,231 702,234 C702.500,238 703,241 704,244 C705.500,248 707.500,253 710,258 C712.500,263 715.500,268.500 718,274 C720,279 722,284 724,290 C725,294 726,298 727,302 C728.500,307 730,313 731,319"/>
<path class="lt" d="M699.500,196.500 C700,200.500 698.500,203.500 695,204.500 C693,205 691,204.800 690,204.500 M700.500,211.500 L705,209.500 M701.500,214 L706,212"/>
<!-- creases -->
<use href="#creaseR" transform="translate(614,197.8) scale(-1,1)"/>
<use href="#creaseR" transform="translate(693.5,193)"/>
<!-- hanging laces over hands -->
<path d="M595,221 C590,229 587,240 587,250 C587,262 588.500,272 590,282 C592,294 595,306 598,318" fill="none" stroke="#0f3652" stroke-width="7.00" stroke-linecap="round" stroke-linejoin="round"/><path d="M595,221 C590,229 587,240 587,250 C587,262 588.500,272 590,282 C592,294 595,306 598,318" fill="none" stroke="#56b0e0" stroke-width="4.50" stroke-linecap="round" stroke-linejoin="round"/>
<path d="M709.500,203.500 C712,209 713,215 713.500,222 C714,230 714.500,238 715.500,246 C716.500,253 718,260 720,266 C722,273 725,281 728.500,289" fill="none" stroke="#0f3652" stroke-width="7.00" stroke-linecap="round" stroke-linejoin="round"/><path d="M709.500,203.500 C712,209 713,215 713.500,222 C714,230 714.500,238 715.500,246 C716.500,253 718,260 720,266 C722,273 725,281 728.500,289" fill="none" stroke="#56b0e0" stroke-width="4.50" stroke-linecap="round" stroke-linejoin="round"/>
<path d="M728.50,289.00 L739.72,303.96" stroke="#0f3652" stroke-width="4.20" fill="none"/><path d="M728.20,288.60 L739.00,303.00" stroke="#56b0e0" stroke-width="1.80" fill="none"/>
</g>

<!-- 34_c4.svg -->
<g id="c4">
<!-- tails behind hands -->
<path d="M97.00,455.00 C96.29,454.58 94.33,453.35 92.75,452.50 C91.17,451.65 89.83,450.63 87.50,449.90 C85.17,449.17 81.67,448.25 78.75,448.10 C75.83,447.95 72.92,448.27 70.00,449.00 C67.08,449.73 64.02,450.60 61.25,452.50 C58.48,454.40 55.59,457.48 53.40,460.40 C51.21,463.32 49.57,466.87 48.10,470.00 C46.63,473.13 45.18,477.67 44.60,479.20" fill="none" stroke="#0f3652" stroke-width="7.00" stroke-linecap="butt" stroke-linejoin="round"/><path d="M97.00,455.00 C96.29,454.58 94.33,453.35 92.75,452.50 C91.17,451.65 89.83,450.63 87.50,449.90 C85.17,449.17 81.67,448.25 78.75,448.10 C75.83,447.95 72.92,448.27 70.00,449.00 C67.08,449.73 64.02,450.60 61.25,452.50 C58.48,454.40 55.59,457.48 53.40,460.40 C51.21,463.32 49.57,466.87 48.10,470.00 C46.63,473.13 45.18,477.67 44.60,479.20" fill="none" stroke="#56b0e0" stroke-width="4.50" stroke-linecap="butt" stroke-linejoin="round"/>
<path d="M226.00,464.00 C226.88,463.85 229.50,463.50 231.25,463.10 C233.00,462.70 234.50,462.53 236.50,461.60 C238.50,460.67 241.25,459.18 243.25,457.50 C245.25,455.82 247.19,453.75 248.50,451.50 C249.81,449.25 250.72,446.50 251.10,444.00 C251.47,441.50 251.37,438.93 250.75,436.50 C250.13,434.07 247.96,430.58 247.40,429.40" fill="none" stroke="#0f3652" stroke-width="7.00" stroke-linecap="butt" stroke-linejoin="round"/><path d="M226.00,464.00 C226.88,463.85 229.50,463.50 231.25,463.10 C233.00,462.70 234.50,462.53 236.50,461.60 C238.50,460.67 241.25,459.18 243.25,457.50 C245.25,455.82 247.19,453.75 248.50,451.50 C249.81,449.25 250.72,446.50 251.10,444.00 C251.47,441.50 251.37,438.93 250.75,436.50 C250.13,434.07 247.96,430.58 247.40,429.40" fill="none" stroke="#56b0e0" stroke-width="4.50" stroke-linecap="butt" stroke-linejoin="round"/>
<!-- left hand -->
<path class="sk" style="stroke:none" d="M64.400,542 C67,536 69,530 70.900,524 C73,517 74.500,511 75,504.500 C75.500,498 75.300,491 75,485 C74.500,479 73.500,474 73.300,468.800 C73.500,466.500 74,465 75,464 C79,460.500 83,457 87,454 C91.500,451 96.500,448 101.800,445.200 C107,442.500 112.500,440 118,437.900 C122,436 126,434 129.400,432.200 C131.500,431.500 133.500,432 133.500,433.800 C133.600,435.500 132.800,437.200 131.900,438.700 L140,450 L139,472 L131,496 L126.200,496.400 C125,501.500 123.500,506.500 121.300,511 C118.500,516 115,520 111.500,524 C109,527.500 106.500,530.500 105,533.800 L102.600,545.200 Z"/>
<path class="sk2" d="M139,460.500 C141,462 141.200,466 140.200,469.500 C139.300,472 137.500,473.300 135.800,473.500 C136.800,476.500 136.500,480.500 135,483.500 C134,485 132.500,485.800 131,485.500 C131.500,488.500 131.200,492 129.500,494.800 C128.500,496.300 127,496.800 126,496.400 L122,492 L132,462 Z"/>
<path class="ln" d="M64.400,542 C67,536 69,530 70.900,524 C73,517 74.500,511 75,504.500 C75.500,498 75.300,491 75,485 C74.500,479 73.500,474 73.300,468.800 C73.500,466.500 74,465 75,464 C79,460.500 83,457 87,454 C91.500,451 96.500,448 101.800,445.200 C107,442.500 112.500,440 118,437.900 C122,436 126,434 129.400,432.200 C131.500,431.500 133.500,432 133.500,433.800 C133.600,435.500 132.800,437.200 131.900,438.700 L129.500,442"/>
<path class="lt" d="M81,474 C80.5,469.5 81,467.5 82.5,466 C87,462 93,457.5 99,453.5"/>
<!-- right hand -->
<path class="sk" style="stroke:none" d="M206,546 C205.500,542 204.800,538 203.700,533.800 C202,530.500 199.500,528 197,525.700 C194.500,522.500 192.500,519.500 190.600,516 C188.800,512 187.500,508 186.600,504.500 C185.500,500 184.200,495.500 183.300,491.500 L175,480 L170,462 L171,450 L177.600,434.600 C178.500,433 180.500,432.500 182.500,433 C187,435.500 191.500,438.500 195.500,441 C200.500,443.500 205.500,446 210,448.500 C214.500,451.500 219,455.500 223,459 C227,462 231,464.500 234.500,467 C235.800,469 236.200,471 236,473.700 L236,485 C235.700,490.500 235.300,496 235.400,501.300 C235.600,507 236.200,512.500 237,517.600 C238,523 239.500,528.500 241,533.800 L244.300,545.200 Z"/>
<path class="sk2" d="M171.200,460 C169.200,462 169,466 170,469 C171,471.500 172.500,472.800 174,473 C173.200,476 173.500,480 175,482.500 C176,484 177.500,484.500 178.800,484.300 C178.500,487.500 179,491.500 180.500,494.300 C181.500,496 183,496.500 184,496.200 L188,492 L178,462 Z"/>
<path class="ln" d="M180.500,441.500 L178.200,438.500 C177.300,437 177,435.500 177.600,434.600 C178.500,433 180.500,432.500 182.500,433 C187,435.500 191.500,438.500 195.500,441 C200.500,443.500 205.500,446 210,448.500 C214.500,451.500 219,455.500 223,459 C227,462 231,464.500 234.500,467 C235.800,469 236.200,471 236,473.700 L236,485 C235.700,490.500 235.300,496 235.400,501.300 C235.600,507 236.200,512.500 237,517.600 C238,523 239.500,528.500 241,533.800 L244.300,545.200"/>
<path class="lt" d="M229.5,480 C230,475 229.5,472.5 228,470.5 C223.5,466.5 218,462 212,458"/>
<!-- lace in palm hollows -->
<path d="M133,443 C127,450 120,458 116,464 C113,468 111,471 110,473" fill="none" stroke="#0f3652" stroke-width="4.20" stroke-linecap="butt" stroke-linejoin="round"/><path d="M133,443 C127,450 120,458 116,464 C113,468 111,471 110,473" fill="none" stroke="#56b0e0" stroke-width="1.70" stroke-linecap="butt" stroke-linejoin="round"/>
<path d="M177,443 C183,450 190,457 194,462 C198,466 201,469 203.700,471" fill="none" stroke="#0f3652" stroke-width="4.20" stroke-linecap="butt" stroke-linejoin="round"/><path d="M177,443 C183,450 190,457 194,462 C198,466 201,469 203.700,471" fill="none" stroke="#56b0e0" stroke-width="1.70" stroke-linecap="butt" stroke-linejoin="round"/>
<!-- loop: under part -->
<path d="M160,365 C150,365 140.500,372 136.500,384 C134,396 141,410 147.500,419 C151.500,425 155,429 157.500,431.500 L174,450" fill="none" stroke="#0f3652" stroke-width="7.50" stroke-linecap="butt" stroke-linejoin="round"/><path d="M160,365 C150,365 140.500,372 136.500,384 C134,396 141,410 147.500,419 C151.500,425 155,429 157.500,431.500 L174,450" fill="none" stroke="#56b0e0" stroke-width="5.00" stroke-linecap="butt" stroke-linejoin="round"/>
<!-- loop: over part -->
<path d="M138.500,450 C146,443 153,436 158,431 C163,424 166,420 168,417 C172.500,408 178,398 178,388 C178,376 170,365 160,365" fill="none" stroke="#0f3652" stroke-width="7.50" stroke-linecap="butt" stroke-linejoin="round"/><path d="M138.500,450 C146,443 153,436 158,431 C163,424 166,420 168,417 C172.500,408 178,398 178,388 C178,376 170,365 160,365" fill="none" stroke="#56b0e0" stroke-width="5.00" stroke-linecap="butt" stroke-linejoin="round"/>
<!-- knot ring -->
<path d="M154,432 C151.500,436 153,441 158,442.500 C163,444 168.500,441.500 169.500,436.500 C170,433.500 169,431 167.500,429.500" fill="none" stroke="#0f3652" stroke-width="6.80" stroke-linecap="round" stroke-linejoin="round"/><path d="M154,432 C151.500,436 153,441 158,442.500 C163,444 168.500,441.500 169.500,436.500 C170,433.500 169,431 167.500,429.500" fill="none" stroke="#56b0e0" stroke-width="4.30" stroke-linecap="round" stroke-linejoin="round"/>
<!-- thumbs -->
<path class="skf" d="M122,467 C122.500,463.500 123.300,460 124.500,457.400 C125.500,454 127,451.500 128.600,449.300 C130.500,446.800 133.500,445.500 136,446 C138.500,446.500 140.200,448 140,450 C139.800,453 139.500,456 139.200,459 C138.500,462.500 137.300,466 136,468.800 C134.300,472.500 132.500,476.500 131,480 C129.500,484 128.200,488 127,491.500 L126.200,496.400 L121.300,511 L111.500,524 L105,533.800 L102.600,545.200 L80,544 L95,490 Z"/>
<path class="ln" d="M122,467 C122.500,463.500 123.300,460 124.500,457.400 C125.500,454 127,451.500 128.600,449.300 C130.500,446.800 133.500,445.500 136,446 C138.500,446.500 140.200,448 140,450 C139.800,453 139.500,456 139.200,459 C138.500,462.500 137.300,466 136,468.800 C134.300,472.500 132.500,476.500 131,480 C129.500,484 128.200,488 127,491.500 L126.200,496.400 C125,501.500 123.500,506.500 121.300,511 C118.500,516 115,520 111.500,524 C109,527.500 106.500,530.500 105,533.800 L102.600,545.200"/>
<path class="lt" d="M130.500,450.500 C129.800,454.500 131.500,457.500 135,458 C137,458.300 138.500,458 139.500,457.500 M124,466 L129,467.500 M123.500,468.500 L128.500,470 M105,533.800 C107,529 110,525 112.500,522"/>
<path class="skf" d="M197,478.500 C194.500,475 192.500,472 190.600,468.800 C188.500,465 186.500,461 185,457.400 C184,454 183,450.500 181.700,447.600 C180.500,445.500 178,445 175.200,446.800 C172.500,448 170.800,449.500 171,450.900 C170.800,453.500 170.800,456.500 171,459 C171.800,462.500 173,466 174.400,468.800 C175.800,472.500 177.200,476.500 178.500,480 C180,484 181.300,487.500 182.500,490 L186.600,504.500 L190.600,516 L197,525.700 L203.700,533.800 L206,546 L228,546 L222,490 Z"/>
<path class="ln" d="M197,478.500 C194.500,475 192.500,472 190.600,468.800 C188.500,465 186.500,461 185,457.400 C184,454 183,450.500 181.700,447.600 C180.500,445.500 178,445 175.200,446.800 C172.500,448 170.800,449.500 171,450.900 C170.800,453.500 170.800,456.500 171,459 C171.800,462.500 173,466 174.400,468.800 C175.800,472.500 177.200,476.500 178.500,480 C180,484 181.300,487.500 182.500,490 L183.300,491.500 C184.200,495.500 185.500,500 186.600,504.500 C187.500,508 188.800,512 190.600,516 C192.500,519.500 194.500,522.500 197,525.700 C199.500,528 202,530.500 203.700,533.800 C204.800,538 205.500,542 206,546"/>
<path class="lt" d="M180.800,449 C181.300,453 179.500,456.500 176,457.300 C174,457.700 172.500,457.500 171.500,457 M182,467.500 L187,466 M182.800,470 L187.800,468.500 M197,525.700 C199.500,529 202,533 203.500,536"/>
<!-- creases -->
<use href="#creaseR" transform="translate(136,446) scale(-1,1)"/>
<use href="#creaseR" transform="translate(175.2,446.8)"/>
</g>

<!-- 35_c5.svg -->
<g id="c5">
<!-- tails behind hands -->
<path d="M342,461 C335,459.500 328,457.500 322.500,455 C317,452.500 312.500,449.500 309.500,446 C306.500,442.500 304.500,438.500 303,434.600 C302,431.500 301.200,428.500 300.600,425.700" fill="none" stroke="#0f3652" stroke-width="7.00" stroke-linecap="butt" stroke-linejoin="round"/><path d="M342,461 C335,459.500 328,457.500 322.500,455 C317,452.500 312.500,449.500 309.500,446 C306.500,442.500 304.500,438.500 303,434.600 C302,431.500 301.200,428.500 300.600,425.700" fill="none" stroke="#56b0e0" stroke-width="4.50" stroke-linecap="butt" stroke-linejoin="round"/>
<path d="M333,484 C326,489.500 318,495.500 311,501.300" fill="none" stroke="#0f3652" stroke-width="7.00" stroke-linecap="round" stroke-linejoin="round"/><path d="M333,484 C326,489.500 318,495.500 311,501.300" fill="none" stroke="#56b0e0" stroke-width="4.50" stroke-linecap="round" stroke-linejoin="round"/>
<path d="M311.00,501.30 L298.88,512.72" stroke="#0f3652" stroke-width="4.50" fill="none"/><path d="M311.36,500.96 L299.75,511.90" stroke="#56b0e0" stroke-width="2.10" fill="none"/>
<path d="M473,455.500 C477,453 480.500,449 483.200,444.400 C484.800,440 485.500,434.500 485.600,429.750" fill="none" stroke="#0f3652" stroke-width="7.00" stroke-linecap="butt" stroke-linejoin="round"/><path d="M473,455.500 C477,453 480.500,449 483.200,444.400 C484.800,440 485.500,434.500 485.600,429.750" fill="none" stroke="#56b0e0" stroke-width="4.50" stroke-linecap="butt" stroke-linejoin="round"/>
<path d="M490,489 C494,494 498,499 501,503" fill="none" stroke="#0f3652" stroke-width="7.00" stroke-linecap="round" stroke-linejoin="round"/><path d="M490,489 C494,494 498,499 501,503" fill="none" stroke="#56b0e0" stroke-width="4.50" stroke-linecap="round" stroke-linejoin="round"/>
<path d="M501.00,503.00 L515.83,515.06" stroke="#0f3652" stroke-width="4.50" fill="none"/><path d="M500.61,502.68 L514.90,514.30" stroke="#56b0e0" stroke-width="2.10" fill="none"/>
<!-- horizontal strand -->
<path d="M392,461.200 H428" fill="none" stroke="#0f3652" stroke-width="7.00" stroke-linecap="butt" stroke-linejoin="round"/><path d="M392,461.200 H428" fill="none" stroke="#56b0e0" stroke-width="4.50" stroke-linecap="butt" stroke-linejoin="round"/>
<!-- left hand -->
<path class="sk" style="stroke:none" d="M320,544.400 C322,538.500 323.500,533 325,527.300 C327,521.500 328.800,516.500 329.800,511 C330.500,504.500 330.700,498 330.650,491.500 C330.300,485 329.300,479 329,473.700 C329.300,471.300 330.200,469.800 331.500,468.800 C336,465.500 340.500,462 345.300,459 C350,455.500 355,452.200 360,449.300 C365,446.300 370,443.500 374.600,441 C378.500,439.300 382.500,437.500 386,436.300 C388,435.800 389.500,436.800 389.200,438.700 C388.800,440.800 387.300,442.800 386,444.400 L394,454 L393,478 L382,496 L381,501.300 C379.500,506.500 378,511.500 376.200,516 C373.500,521 370,525.500 366.400,529 C364,531.500 361.800,534 360,537 L357.500,546 Z"/>
<path class="sk2" d="M393,465.500 C395,467 395.500,471 394.500,474.500 C393.700,477.300 391.800,478.700 390,478.500 C391,481.500 390.800,485.500 389.300,488.500 C388.300,490.300 386.500,491 385.200,490.500 C385.700,493.500 385.200,497.500 383.700,500.200 C382.800,501.700 381.500,502 380.500,501.500 L376,497 L386,467 Z"/>
<path class="ln" d="M320,544.400 C322,538.500 323.500,533 325,527.300 C327,521.500 328.800,516.500 329.800,511 C330.500,504.500 330.700,498 330.650,491.500 C330.300,485 329.300,479 329,473.700 C329.300,471.300 330.200,469.800 331.500,468.800 C336,465.500 340.500,462 345.300,459 C350,455.500 355,452.200 360,449.300 C365,446.300 370,443.500 374.600,441 C378.500,439.300 382.500,437.500 386,436.300 C388,435.800 389.500,436.800 389.200,438.700 C388.800,440.800 387.300,442.800 386,444.400 L383.500,447.500"/>
<path class="lt" d="M337,479 C336.5,474.5 337,472.5 338.5,471 C343,467.5 349,463 355,459"/>
<!-- right hand -->
<path class="sk" style="stroke:none" d="M468.500,546.800 C468,543.500 467,540 465.300,537 C463.500,533.500 461,530.500 458.800,527.300 C456,524 453,521 450.650,517.600 C448.300,513.500 446.500,509 445,504.500 L442.500,496.400 L431,480 L426,462 L426.250,455 L431,438.700 C432,437 434,436.500 436,437 C441,439.500 446,442 450.650,444.400 C455.500,446.500 460.500,448.500 465.300,450.900 C470,453.800 474.300,457.300 478.300,460.650 C482,462.500 486,464 489.700,465.500 C491,467.500 491.500,469.500 491.300,472 L492,485 C492.300,490.500 492.700,496 493,501.300 C493.700,507 494.800,512.500 496.200,517.600 C497.500,522.500 499.200,527.500 501,532.200 L506,543.600 Z"/>
<path class="sk2" d="M426.500,465 C424.500,467 424.300,471 425.300,474 C426.200,476.500 427.800,477.800 429.500,478 C428.700,481 429,485 430.500,487.500 C431.500,489.200 433,489.700 434.300,489.500 C434,492.500 434.500,496.500 436,499.300 C437,501 438.500,501.500 439.500,501.200 L444,497 L434,467 Z"/>
<path class="ln" d="M434.500,446 L432,443 C431,441.500 430.500,440 431,438.700 C432,437 434,436.500 436,437 C441,439.500 446,442 450.650,444.400 C455.500,446.500 460.500,448.500 465.300,450.900 C470,453.800 474.300,457.300 478.300,460.650 C482,462.500 486,464 489.700,465.500 C491,467.500 491.500,469.500 491.300,472 L492,485 C492.300,490.500 492.700,496 493,501.300 C493.700,507 494.800,512.500 496.200,517.600 C497.500,522.500 499.200,527.500 501,532.200 L506,543.600"/>
<path class="lt" d="M485.5,480 C486,475 485.5,472.5 484,470.5 C479.5,467 474,463.5 468,460"/>
<!-- hollow shadows -->
<path d="M366,469 L372,464 L369,473 L364,479 Z M454,469 L448,464 L451,473 L456,479 Z" fill="#b9c6d3" stroke="none"/>
<!-- loop -->
<path d="M387,450 C393,445 399,440 404,435 M429.500,450 C424,445 418,440 413.500,435" fill="none" stroke="#0f3652" stroke-width="7.00" stroke-linecap="butt" stroke-linejoin="round"/><path d="M387,450 C393,445 399,440 404,435 M429.500,450 C424,445 418,440 413.500,435" fill="none" stroke="#56b0e0" stroke-width="4.50" stroke-linecap="butt" stroke-linejoin="round"/>
<path d="M401,420 C397,417.500 393,414.500 389,411 C383,406 377.500,400 374,393.500 C370.500,386.500 369.500,378.500 371.500,370.500 C374,362.500 380.500,355.500 389.400,352 C395.500,349.500 402,348.500 408.650,348.600 C415,348.700 422,350 427.900,352.800 C435.500,356.500 442,362.500 445,370 C447.500,377.500 447.500,385.500 444.500,392.500 C441.500,399.500 436,405.500 430,410 C425,413.500 420,416.500 414,420" fill="none" stroke="#0f3652" stroke-width="7.00" stroke-linecap="butt" stroke-linejoin="round"/><path d="M401,420 C397,417.500 393,414.500 389,411 C383,406 377.500,400 374,393.500 C370.500,386.500 369.500,378.500 371.500,370.500 C374,362.500 380.500,355.500 389.400,352 C395.500,349.500 402,348.500 408.650,348.600 C415,348.700 422,350 427.900,352.800 C435.500,356.500 442,362.500 445,370 C447.500,377.500 447.500,385.500 444.500,392.500 C441.500,399.500 436,405.500 430,410 C425,413.500 420,416.500 414,420" fill="none" stroke="#56b0e0" stroke-width="4.50" stroke-linecap="butt" stroke-linejoin="round"/>
<!-- knot -->
<ellipse cx="407.2" cy="428.2" rx="11.5" ry="7.5" fill="#56b0e0"/>
<path d="M409,419.800 C400,418.500 393.500,422 393.800,428 C394,433.500 401,437.500 410,436.500 C417,435.800 421.500,432 420.500,427 C419.500,422 414.500,420.500 409,419.800 Z" fill="none" stroke="#0f3652" stroke-width="7.00" stroke-linecap="round" stroke-linejoin="round"/><path d="M409,419.800 C400,418.500 393.500,422 393.800,428 C394,433.500 401,437.500 410,436.500 C417,435.800 421.500,432 420.500,427 C419.500,422 414.500,420.500 409,419.800 Z" fill="none" stroke="#56b0e0" stroke-width="4.50" stroke-linecap="round" stroke-linejoin="round"/>
<path d="M398,430.500 C404,426 412,424 419,426" fill="none" stroke="#0f3652" stroke-width="5.80" stroke-linecap="round" stroke-linejoin="round"/><path d="M398,430.500 C404,426 412,424 419,426" fill="none" stroke="#56b0e0" stroke-width="3.30" stroke-linecap="round" stroke-linejoin="round"/>
<path d="M401,437.500 C406,434 412,431 417.500,430" fill="none" stroke="#0f3652" stroke-width="5.80" stroke-linecap="round" stroke-linejoin="round"/><path d="M401,437.500 C406,434 412,431 417.500,430" fill="none" stroke="#56b0e0" stroke-width="3.30" stroke-linecap="round" stroke-linejoin="round"/>
<!-- thumbs -->
<path class="skf" d="M376.200,472 C376.700,468.500 377.500,465 378.600,462.300 C379.600,459 381,456.300 382.700,454 C384.500,451.600 387,450.500 389.200,450.900 C391.800,451.300 394.200,452.500 394,454 C393.900,457.500 393.600,461 393.250,464 C392.500,467.500 391.300,470.800 390,473.700 C388.500,477 387.200,480.300 386,483.400 C384.500,487.300 383.200,491.200 381.900,494.800 L381,501.300 L376.200,516 L366.400,529 L360,537 L357.500,546 L335,546 L350,490 Z"/>
<path class="ln" d="M376.200,472 C376.700,468.500 377.500,465 378.600,462.300 C379.600,459 381,456.300 382.700,454 C384.500,451.600 387,450.500 389.200,450.900 C391.800,451.300 394.200,452.500 394,454 C393.900,457.500 393.600,461 393.250,464 C392.500,467.500 391.300,470.800 390,473.700 C388.500,477 387.200,480.300 386,483.400 C384.500,487.300 383.200,491.200 381.900,494.800 L381,501.300 C379.500,506.500 378,511.500 376.200,516 C373.500,521 370,525.500 366.400,529 C364,531.500 361.800,534 360,537 L357.500,546"/>
<path class="lt" d="M384.500,455 C383.800,459 385.500,462 389,462.500 C391,462.800 392.500,462.500 393.500,462 M378.500,471 L383.500,472.500 M378,473.500 L383,475 M360,537 C362,533 365,529 367.500,526"/>
<path class="skf" d="M450.650,480 C448.500,477.500 446.800,474.800 445,472 C443,468.800 441,465.500 439.250,462.300 C438.200,459 437.500,455.500 436.800,452.500 C435.800,450.700 433,450.300 429.500,451.700 C427.300,452.700 426,454.300 426.250,455.800 C426,458.500 426,461.500 426.250,463.900 C427,467.300 428.200,470.700 429.500,473.700 C431,477.500 432.700,481.300 434.400,485 C436.200,489 438.200,493 440,496.400 L445,504.500 L450.650,517.600 L458.800,527.300 L465.300,537 L468.500,546.800 L490,546 L482,490 Z"/>
<path class="ln" d="M450.650,480 C448.500,477.500 446.800,474.800 445,472 C443,468.800 441,465.500 439.250,462.300 C438.200,459 437.500,455.500 436.800,452.500 C435.800,450.700 433,450.300 429.500,451.700 C427.300,452.700 426,454.300 426.250,455.800 C426,458.500 426,461.500 426.250,463.900 C427,467.300 428.200,470.700 429.500,473.700 C431,477.500 432.700,481.300 434.400,485 C436.200,489 438.200,493 440,496.400 L442.500,496.400 C443.200,499 444,502 445,504.500 C446.500,509 448.300,513.500 450.650,517.600 C453,521 456,524 458.800,527.300 C461,530.500 463.500,533.500 465.300,537 C467,540 468,543.500 468.500,546.800"/>
<path class="lt" d="M435.800,454 C436.300,458 434.500,461.500 431,462.300 C429,462.700 427.500,462.500 426.500,462 M437,472 L442,470.500 M437.800,474.500 L442.800,473 M458.800,527.300 C461,530.500 463.500,534.500 465,538"/>
<!-- creases -->
<use href="#creaseR" transform="translate(389.2,450.9) scale(-1,1)"/>
<use href="#creaseR" transform="translate(429.5,451.7)"/>
</g>

<!-- 36_c6.svg -->
<g id="c6">
<!-- lower-left tail -->
<path d="M581,492 C577,496 572.500,501 568.400,505.400" fill="none" stroke="#0f3652" stroke-width="7.00" stroke-linecap="round" stroke-linejoin="round"/><path d="M581,492 C577,496 572.500,501 568.400,505.400" fill="none" stroke="#56b0e0" stroke-width="4.50" stroke-linecap="round" stroke-linejoin="round"/>
<path d="M568.40,505.40 L557.85,514.80" stroke="#0f3652" stroke-width="4.50" fill="none"/><path d="M568.77,505.07 L558.75,514.00" stroke="#56b0e0" stroke-width="2.10" fill="none"/>
<!-- side strands -->
<path d="M562.500,423.500 C569,419 577,415.800 585,414.400 C593,412.800 601,412.300 609.500,412.600 C616,412.900 623,414 628.750,416 C634.500,418 640,421 644,424 L650,428" fill="none" stroke="#0f3652" stroke-width="7.10" stroke-linecap="butt" stroke-linejoin="round"/><path d="M562.500,423.500 C569,419 577,415.800 585,414.400 C593,412.800 601,412.300 609.500,412.600 C616,412.900 623,414 628.750,416 C634.500,418 640,421 644,424 L650,428" fill="none" stroke="#56b0e0" stroke-width="4.60" stroke-linecap="butt" stroke-linejoin="round"/>
<path d="M741.500,418 C738,416.500 734.500,415.700 731,415.250 C724,414 717,413.500 710,413.500 C701,413.500 692,414 683.750,415.250 C677,416.500 670,418.500 664,421 L658,425" fill="none" stroke="#0f3652" stroke-width="7.10" stroke-linecap="butt" stroke-linejoin="round"/><path d="M741.500,418 C738,416.500 734.500,415.700 731,415.250 C724,414 717,413.500 710,413.500 C701,413.500 692,414 683.750,415.250 C677,416.500 670,418.500 664,421 L658,425" fill="none" stroke="#56b0e0" stroke-width="4.60" stroke-linecap="butt" stroke-linejoin="round"/>
<!-- left hand -->
<path class="sk" style="stroke:none" d="M573.600,540.400 C575.500,534 577,528 578,522 C580,515 581.800,508 582.400,501 C582.800,494 582.300,487 581.500,480 C580.500,475 579.300,470.500 578.900,466 C578.900,464 579.200,462.500 579.750,461.600 C584,457.500 589,453.800 593.750,450.250 C599,446.500 604.200,442.700 609.500,438.900 C614,435.800 619,432.700 623.500,430 C626.500,428.500 629.500,427.300 632.250,426.600 C634.500,426.200 636.500,427 636.600,428.400 C636.500,430.500 635.200,432.700 634,434.500 L643.600,445 L642,470 L632,490 L629.600,492.250 C628,501 626,510 624,518 C621,526 617,534 610.400,541.250 Z"/>
<path class="sk2" d="M642.500,448 C644.500,450 645,453.500 644,456.500 C643.300,458.700 641.800,459.700 640.500,459.500 C641.300,462.500 640.800,466 639.300,468.700 C638.300,470.300 636.800,470.800 635.600,470.400 C636.300,473.500 636,477.500 634.500,480.500 C633.500,482.300 632,483 630.800,482.500 C631.200,485.500 630.800,489 629.300,491.500 C628.500,492.700 627.500,493 626.500,492.500 L622,488 L634,450 Z"/>
<path class="ln" d="M573.600,540.400 C575.500,534 577,528 578,522 C580,515 581.800,508 582.400,501 C582.800,494 582.300,487 581.500,480 C580.500,475 579.300,470.500 578.900,466 C578.900,464 579.200,462.500 579.750,461.600 C584,457.500 589,453.800 593.750,450.250 C599,446.500 604.200,442.700 609.500,438.900 C614,435.800 619,432.700 623.500,430 C626.500,428.500 629.500,427.300 632.250,426.600 C634.500,426.200 636.500,427 636.600,428.400 C636.500,430.500 635.200,432.700 634,434.500 L631.500,437.500"/>
<path class="lt" d="M586,472 C585.5,467.5 586,465.5 587.5,464 C592,460 598,455.5 604,451"/>
<!-- right hand -->
<path class="sk" style="stroke:none" d="M698.600,545.600 C698,543 697,540.500 696,538.600 C692,529 687,518 682,508 L675,490.500 L664,470 L658.400,452 L658.400,445 L666.250,426.600 C667.500,425 669.500,424.500 671.500,424.900 C676.500,427.300 681,430 685.500,432.750 C690.500,435.300 695,437.800 699.500,440.600 C704.500,443.700 709,447 713.500,450.250 C716.500,452.300 719.500,454.300 722.250,456.400 C723.500,458.300 724,460.300 724,462.500 L724,480 C724.200,486 724.500,492 724.900,497.500 C725.500,503.500 726.300,509.500 727.500,515 C729,521 730.700,527 732.750,532.500 L736.250,541.250 Z"/>
<path class="sk2" d="M660,455.500 C658,457.500 657.800,461.500 658.800,464.500 C659.700,467 661.300,468.300 663,468.500 C662.200,471.500 662.500,475.500 664,478 C665,479.700 666.500,480.200 667.800,480 C667.500,483 668,487 669.500,489.800 C670.500,491.500 672,492 673,491.700 L677.500,488 L667.500,458 Z"/>
<path class="ln" d="M669.500,434.500 L667.200,431.500 C666.200,430 665.700,428 666.250,426.600 C667.500,425 669.500,424.500 671.500,424.900 C676.500,427.300 681,430 685.500,432.750 C690.500,435.300 695,437.800 699.500,440.600 C704.500,443.700 709,447 713.500,450.250 C716.500,452.300 719.500,454.300 722.250,456.400 C723.500,458.300 724,460.300 724,462.500 L724,480 C724.200,486 724.500,492 724.900,497.500 C725.500,503.500 726.300,509.500 727.500,515 C729,521 730.700,527 732.750,532.500 L736.250,541.250"/>
<path class="lt" d="M718,471 C718.5,466 718,463.5 716.5,461.5 C712,458 706.5,454 701,450.5"/>
<!-- strand to left hand -->
<path d="M635,441 C639.500,436.500 644,432 648.500,427.500" fill="none" stroke="#0f3652" stroke-width="7.00" stroke-linecap="butt" stroke-linejoin="round"/><path d="M635,441 C639.500,436.500 644,432 648.500,427.500" fill="none" stroke="#56b0e0" stroke-width="4.50" stroke-linecap="butt" stroke-linejoin="round"/>
<!-- loop -->
<path d="M650,422 C646.500,417.500 643.500,413.500 641.250,410 C637.500,404.500 634.800,399.500 633,395 C630.500,389.500 628.800,384 628.200,378.500 C627.700,373.500 627.700,368.500 628.200,363.400 C629.200,358 632,354 635.750,351 C639.500,348 643.500,346.300 648,346 C652.500,346.200 657,348 660.500,351 C664.500,354.300 667.200,358.500 668,363.400 C668.800,368.500 669,373.500 668.750,378.500 C668.300,384 666.800,389.500 664.650,395 C662.800,399.500 661,404.500 659,408.750 C657.500,412.500 656,416.500 655,420" fill="none" stroke="#0f3652" stroke-width="7.10" stroke-linecap="butt" stroke-linejoin="round"/><path d="M650,422 C646.500,417.500 643.500,413.500 641.250,410 C637.500,404.500 634.800,399.500 633,395 C630.500,389.500 628.800,384 628.200,378.500 C627.700,373.500 627.700,368.500 628.200,363.400 C629.200,358 632,354 635.750,351 C639.500,348 643.500,346.300 648,346 C652.500,346.200 657,348 660.500,351 C664.500,354.300 667.200,358.500 668,363.400 C668.800,368.500 669,373.500 668.750,378.500 C668.300,384 666.800,389.500 664.650,395 C662.800,399.500 661,404.500 659,408.750 C657.500,412.500 656,416.500 655,420" fill="none" stroke="#56b0e0" stroke-width="4.60" stroke-linecap="butt" stroke-linejoin="round"/>
<g transform="translate(0,2)">
<!-- knot -->
<ellipse cx="656" cy="426.5" rx="7.5" ry="8.5" fill="#56b0e0" stroke="#0f3652" stroke-width="1.2"/>
<path d="M651.500,419.500 C648,422 647.500,427 650,431 C652.500,434.500 657.500,435.500 661,433 C664,430.500 664.500,426 662.500,422.500" fill="none" stroke="#0f3652" stroke-width="6.00" stroke-linecap="round" stroke-linejoin="round"/><path d="M651.500,419.500 C648,422 647.500,427 650,431 C652.500,434.500 657.500,435.500 661,433 C664,430.500 664.500,426 662.500,422.500" fill="none" stroke="#56b0e0" stroke-width="3.50" stroke-linecap="round" stroke-linejoin="round"/>
<path d="M653,418.500 C655.500,421 656.500,425 655.500,429 M658.500,418.500 C660.500,421.500 660.500,425.500 659,428.500" fill="none" stroke="#0f3652" stroke-width="5.40" stroke-linecap="round" stroke-linejoin="round"/><path d="M653,418.500 C655.500,421 656.500,425 655.500,429 M658.500,418.500 C660.500,421.500 660.500,425.500 659,428.500" fill="none" stroke="#56b0e0" stroke-width="2.90" stroke-linecap="round" stroke-linejoin="round"/>
<path d="M650,430.500 C654,428 659,427.500 663,429" fill="none" stroke="#0f3652" stroke-width="5.00" stroke-linecap="round" stroke-linejoin="round"/><path d="M650,430.500 C654,428 659,427.500 663,429" fill="none" stroke="#56b0e0" stroke-width="2.50" stroke-linecap="round" stroke-linejoin="round"/>
</g>
<!-- thumbs -->
<path class="skf" d="M621.750,467.750 C622.500,463.500 623.700,459.500 625.250,455.500 C626.200,451.800 627.300,448.200 628.750,445 C630.500,442 633.500,440.300 636.600,440.600 C639.800,441 643.500,442.800 643.600,445 C643.300,448.500 642.700,452 641.900,455.500 C641,459.200 639.800,462.700 638.400,466 C636.900,469.500 635.400,473 634,476.500 C632.700,480 631.500,483.500 630.500,487 L629.600,492.250 C628,501 626,510 624,518 C621,526 617,534 610.400,541.250 L590,541 L600,490 Z"/>
<path class="ln" d="M621.750,467.750 C622.500,463.500 623.700,459.500 625.250,455.500 C626.200,451.800 627.300,448.200 628.750,445 C630.500,442 633.500,440.300 636.600,440.600 C639.800,441 643.500,442.800 643.600,445 C643.300,448.500 642.700,452 641.900,455.500 C641,459.200 639.800,462.700 638.400,466 C636.900,469.500 635.400,473 634,476.500 C632.700,480 631.500,483.500 630.500,487 L629.600,492.250 C628.500,498 627.500,503 626.500,508"/>
<path class="lt" d="M631,445.500 C630.300,449.500 632,452.500 635.500,453 C637.500,453.300 640.500,453 642.500,452 M626,462 L631,463.500 M625.500,464.500 L630.500,466"/>
<path class="skf" d="M689,471.250 C686.500,468.500 684,465.500 682,462.500 C679.800,459 677.700,455.500 675.900,452 C674.700,448.500 673.500,445 672.400,441.500 C671,439.500 667.500,438.500 663.600,439.750 C660.500,441 658.300,443 658.400,445 C658.600,448.500 659.200,452 660,455.500 C661.300,459 662.800,462.500 664.500,466 C666.200,470 668,474 669.750,478.250 C671.500,482.300 673.200,486.500 675,490.500 L681,506.250 L698.600,545.600 L725,545 L715,480 Z"/>
<path class="ln" d="M689,471.250 C686.500,468.500 684,465.500 682,462.500 C679.800,459 677.700,455.500 675.900,452 C674.700,448.500 673.500,445 672.400,441.500 C671,439.500 667.500,438.500 663.600,439.750 C660.500,441 658.300,443 658.400,445 C658.600,448.500 659.200,452 660,455.500 C661.300,459 662.800,462.500 664.500,466 C666.200,470 668,474 669.750,478.250 C671.500,482.300 673.200,486.500 675,490.500 L681,506.250"/>
<path class="lt" d="M671.500,443 C672,447 670,450.500 666.500,451.300 C664.500,451.700 661.500,451.500 659.500,450.500 M671,461.500 L676,460 M671.800,464 L676.800,462.500 M696,538.600 L698.600,545.600"/>
<!-- creases -->
<use href="#creaseR" transform="translate(636.6,440.6) scale(-1,1)"/>
<use href="#creaseR" transform="translate(663.6,439.75)"/>
<!-- label bubble -->
<path d="M627,507 H712 C722,507 729.5,513 729.5,521 C729.5,531 722,540 708,542 L640,542.500 C625,542.500 611.400,535 611.400,523 C611.400,513 618,507 627,507 Z" fill="#fffefa"/>
</g>

<!-- 37_c7.svg -->
<g id="c7">
<use href="#shoeB" transform="translate(161.5,570)"/>
<g>
<use href="#eye" x="131.75" y="652.75"/><use href="#eye" x="134.4" y="672"/><use href="#eye" x="134.4" y="697.4"/><use href="#eye" x="132.6" y="715.75"/><use href="#eye" x="130.9" y="735"/>
<use href="#eye" x="192.1" y="652.75"/><use href="#eye" x="190.4" y="672"/><use href="#eye" x="190.4" y="697.4"/><use href="#eye" x="192.1" y="715.75"/><use href="#eye" x="193.9" y="735"/>
</g>
<path d="M145.5,733.2 H178" fill="none" stroke="#0f3652" stroke-width="6.60" stroke-linecap="butt" stroke-linejoin="round"/><path d="M145.5,733.2 H178" fill="none" stroke="#56b0e0" stroke-width="4.10" stroke-linecap="butt" stroke-linejoin="round"/>
<path d="M191.93,734.28 L147.50,718.00" fill="none" stroke="#0f3652" stroke-width="7.00" stroke-linecap="round" stroke-linejoin="round"/><path d="M191.93,734.28 L147.50,718.00" fill="none" stroke="#56b0e0" stroke-width="4.50" stroke-linecap="round" stroke-linejoin="round"/>
<path d="M132.87,734.27 L176.50,718.00" fill="none" stroke="#0f3652" stroke-width="7.00" stroke-linecap="round" stroke-linejoin="round"/><path d="M132.87,734.27 L176.50,718.00" fill="none" stroke="#56b0e0" stroke-width="4.50" stroke-linecap="round" stroke-linejoin="round"/>
<path d="M190.11,715.07 L147.50,700.50" fill="none" stroke="#0f3652" stroke-width="7.00" stroke-linecap="round" stroke-linejoin="round"/><path d="M190.11,715.07 L147.50,700.50" fill="none" stroke="#56b0e0" stroke-width="4.50" stroke-linecap="round" stroke-linejoin="round"/>
<path d="M134.58,715.06 L176.50,700.50" fill="none" stroke="#0f3652" stroke-width="7.00" stroke-linecap="round" stroke-linejoin="round"/><path d="M134.58,715.06 L176.50,700.50" fill="none" stroke="#56b0e0" stroke-width="4.50" stroke-linecap="round" stroke-linejoin="round"/>
<!-- free laces -->
<path d="M190.40,697.40 C186.17,695.83 173.40,690.82 165.00,688.00 C156.60,685.18 146.04,681.33 140.00,680.50 C133.96,679.67 132.25,681.83 128.75,683.00 C125.25,684.17 121.75,685.62 119.00,687.50 C116.25,689.38 114.07,691.75 112.25,694.25 C110.43,696.75 109.22,699.62 108.10,702.50 C106.97,705.38 106.31,708.50 105.50,711.50 C104.69,714.50 104.07,717.50 103.25,720.50 C102.43,723.50 101.60,726.62 100.60,729.50 C99.60,732.38 98.77,734.92 97.25,737.75 C95.73,740.58 93.61,743.76 91.50,746.50 C89.39,749.24 85.75,752.92 84.60,754.20" fill="none" stroke="#0f3652" stroke-width="8.30" stroke-linecap="round" stroke-linejoin="round"/><path d="M190.40,697.40 C186.17,695.83 173.40,690.82 165.00,688.00 C156.60,685.18 146.04,681.33 140.00,680.50 C133.96,679.67 132.25,681.83 128.75,683.00 C125.25,684.17 121.75,685.62 119.00,687.50 C116.25,689.38 114.07,691.75 112.25,694.25 C110.43,696.75 109.22,699.62 108.10,702.50 C106.97,705.38 106.31,708.50 105.50,711.50 C104.69,714.50 104.07,717.50 103.25,720.50 C102.43,723.50 101.60,726.62 100.60,729.50 C99.60,732.38 98.77,734.92 97.25,737.75 C95.73,740.58 93.61,743.76 91.50,746.50 C89.39,749.24 85.75,752.92 84.60,754.20" fill="none" stroke="#56b0e0" stroke-width="5.80" stroke-linecap="round" stroke-linejoin="round"/>
<path d="M84.60,754.20 L69.29,764.05" stroke="#0f3652" stroke-width="4.70" fill="none"/><path d="M85.02,753.93 L70.30,763.40" stroke="#56b0e0" stroke-width="2.30" fill="none"/>
<path d="M134.40,697.40 C138.67,695.83 151.98,691.23 160.00,688.00 C168.02,684.77 176.42,679.08 182.50,678.00 C188.58,676.92 192.08,679.67 196.50,681.50 C200.92,683.33 205.25,685.75 209.00,689.00 C212.75,692.25 216.25,696.50 219.00,701.00 C221.75,705.50 223.92,710.17 225.50,716.00 C227.08,721.83 228.00,732.67 228.50,736.00" fill="none" stroke="#0f3652" stroke-width="8.30" stroke-linecap="round" stroke-linejoin="round"/><path d="M134.40,697.40 C138.67,695.83 151.98,691.23 160.00,688.00 C168.02,684.77 176.42,679.08 182.50,678.00 C188.58,676.92 192.08,679.67 196.50,681.50 C200.92,683.33 205.25,685.75 209.00,689.00 C212.75,692.25 216.25,696.50 219.00,701.00 C221.75,705.50 223.92,710.17 225.50,716.00 C227.08,721.83 228.00,732.67 228.50,736.00" fill="none" stroke="#56b0e0" stroke-width="5.80" stroke-linecap="round" stroke-linejoin="round"/>
<path d="M228.50,736.00 L231.74,752.18" stroke="#0f3652" stroke-width="4.70" fill="none"/><path d="M228.40,735.51 L231.50,751.00" stroke="#56b0e0" stroke-width="2.30" fill="none"/>
<path d="M188.41,671.34 L146.50,657.50" fill="none" stroke="#0f3652" stroke-width="7.00" stroke-linecap="round" stroke-linejoin="round"/><path d="M188.41,671.34 L146.50,657.50" fill="none" stroke="#56b0e0" stroke-width="4.50" stroke-linecap="round" stroke-linejoin="round"/>
<path d="M136.39,671.32 L177.00,657.50" fill="none" stroke="#0f3652" stroke-width="7.00" stroke-linecap="round" stroke-linejoin="round"/><path d="M136.39,671.32 L177.00,657.50" fill="none" stroke="#56b0e0" stroke-width="4.50" stroke-linecap="round" stroke-linejoin="round"/>
<path d="M133.85,652.75 L190.00,652.75" fill="none" stroke="#0f3652" stroke-width="7.00" stroke-linecap="round" stroke-linejoin="round"/><path d="M133.85,652.75 L190.00,652.75" fill="none" stroke="#56b0e0" stroke-width="4.50" stroke-linecap="round" stroke-linejoin="round"/>
</g>

<!-- 38_c8.svg -->
<g id="c8">
<use href="#shoeB" transform="translate(404.7,570)"/>
<g>
<use href="#eye" x="375" y="653"/><use href="#eye" x="377.8" y="671.9"/><use href="#eye" x="378.75" y="697"/><use href="#eye" x="377.8" y="715"/><use href="#eye" x="375" y="732.8"/>
<use href="#eye" x="435" y="653"/><use href="#eye" x="433.1" y="671.9"/><use href="#eye" x="432.2" y="697"/><use href="#eye" x="433.1" y="715"/><use href="#eye" x="436" y="732.8"/>
</g>
<path d="M389.5,731.5 H421.5" fill="none" stroke="#0f3652" stroke-width="6.60" stroke-linecap="butt" stroke-linejoin="round"/><path d="M389.5,731.5 H421.5" fill="none" stroke="#56b0e0" stroke-width="4.10" stroke-linecap="butt" stroke-linejoin="round"/>
<path d="M434.07,731.98 L391.50,714.00" fill="none" stroke="#0f3652" stroke-width="7.00" stroke-linecap="round" stroke-linejoin="round"/><path d="M434.07,731.98 L391.50,714.00" fill="none" stroke="#56b0e0" stroke-width="4.50" stroke-linecap="round" stroke-linejoin="round"/>
<path d="M376.97,732.07 L420.00,716.00" fill="none" stroke="#0f3652" stroke-width="7.00" stroke-linecap="round" stroke-linejoin="round"/><path d="M376.97,732.07 L420.00,716.00" fill="none" stroke="#56b0e0" stroke-width="4.50" stroke-linecap="round" stroke-linejoin="round"/>
<path d="M431.14,714.25 L391.50,699.00" fill="none" stroke="#0f3652" stroke-width="7.00" stroke-linecap="round" stroke-linejoin="round"/><path d="M431.14,714.25 L391.50,699.00" fill="none" stroke="#56b0e0" stroke-width="4.50" stroke-linecap="round" stroke-linejoin="round"/>
<path d="M379.79,714.34 L428.00,698.50" fill="none" stroke="#0f3652" stroke-width="7.00" stroke-linecap="round" stroke-linejoin="round"/><path d="M379.79,714.34 L428.00,698.50" fill="none" stroke="#56b0e0" stroke-width="4.50" stroke-linecap="round" stroke-linejoin="round"/>
<path d="M430.28,696.14 L391.00,678.50" fill="none" stroke="#0f3652" stroke-width="7.00" stroke-linecap="round" stroke-linejoin="round"/><path d="M430.28,696.14 L391.00,678.50" fill="none" stroke="#56b0e0" stroke-width="4.50" stroke-linecap="round" stroke-linejoin="round"/>
<path d="M380.74,696.32 L421.00,682.50" fill="none" stroke="#0f3652" stroke-width="7.00" stroke-linecap="round" stroke-linejoin="round"/><path d="M380.74,696.32 L421.00,682.50" fill="none" stroke="#56b0e0" stroke-width="4.50" stroke-linecap="round" stroke-linejoin="round"/>
<path d="M431.17,671.07 L409.00,661.50" fill="none" stroke="#0f3652" stroke-width="7.00" stroke-linecap="round" stroke-linejoin="round"/><path d="M431.17,671.07 L409.00,661.50" fill="none" stroke="#56b0e0" stroke-width="4.50" stroke-linecap="round" stroke-linejoin="round"/>
<path d="M379.73,671.07 L402.00,661.50" fill="none" stroke="#0f3652" stroke-width="7.00" stroke-linecap="round" stroke-linejoin="round"/><path d="M379.73,671.07 L402.00,661.50" fill="none" stroke="#56b0e0" stroke-width="4.50" stroke-linecap="round" stroke-linejoin="round"/>
<path d="M377.10,653.00 L432.90,653.00" fill="none" stroke="#0f3652" stroke-width="7.00" stroke-linecap="round" stroke-linejoin="round"/><path d="M377.10,653.00 L432.90,653.00" fill="none" stroke="#56b0e0" stroke-width="4.50" stroke-linecap="round" stroke-linejoin="round"/>
<!-- free laces -->
<path d="M403.00,669.50 C400.42,670.54 392.33,673.96 387.50,675.75 C382.67,677.54 378.50,678.75 374.00,680.25 C369.50,681.75 364.75,683.00 360.50,684.75 C356.25,686.50 352.25,688.12 348.50,690.75 C344.75,693.38 340.88,696.88 338.00,700.50 C335.12,704.12 333.00,708.50 331.25,712.50 C329.50,716.50 328.88,720.50 327.50,724.50 C326.12,728.50 324.75,732.50 323.00,736.50 C321.25,740.50 319.25,745.00 317.00,748.50 C314.75,752.00 310.75,756.00 309.50,757.50" fill="none" stroke="#0f3652" stroke-width="8.30" stroke-linecap="round" stroke-linejoin="round"/><path d="M403.00,669.50 C400.42,670.54 392.33,673.96 387.50,675.75 C382.67,677.54 378.50,678.75 374.00,680.25 C369.50,681.75 364.75,683.00 360.50,684.75 C356.25,686.50 352.25,688.12 348.50,690.75 C344.75,693.38 340.88,696.88 338.00,700.50 C335.12,704.12 333.00,708.50 331.25,712.50 C329.50,716.50 328.88,720.50 327.50,724.50 C326.12,728.50 324.75,732.50 323.00,736.50 C321.25,740.50 319.25,745.00 317.00,748.50 C314.75,752.00 310.75,756.00 309.50,757.50" fill="none" stroke="#56b0e0" stroke-width="5.80" stroke-linecap="round" stroke-linejoin="round"/>
<path d="M309.60,757.40 L295.95,772.64" stroke="#0f3652" stroke-width="4.70" fill="none"/><path d="M309.93,757.03 L296.75,771.75" stroke="#56b0e0" stroke-width="2.30" fill="none"/>
<path d="M406.50,669.50 C408.75,670.33 415.50,672.54 420.00,674.50 C424.50,676.46 429.00,678.88 433.50,681.25 C438.00,683.62 442.75,685.88 447.00,688.75 C451.25,691.62 455.50,694.88 459.00,698.50 C462.50,702.12 465.25,706.50 468.00,710.50 C470.75,714.50 473.00,718.50 475.50,722.50 C478.00,726.50 480.25,730.50 483.00,734.50 C485.75,738.50 489.00,743.12 492.00,746.50 C495.00,749.88 498.50,752.75 501.00,754.75 C503.50,756.75 506.00,757.88 507.00,758.50" fill="none" stroke="#0f3652" stroke-width="8.30" stroke-linecap="round" stroke-linejoin="round"/><path d="M406.50,669.50 C408.75,670.33 415.50,672.54 420.00,674.50 C424.50,676.46 429.00,678.88 433.50,681.25 C438.00,683.62 442.75,685.88 447.00,688.75 C451.25,691.62 455.50,694.88 459.00,698.50 C462.50,702.12 465.25,706.50 468.00,710.50 C470.75,714.50 473.00,718.50 475.50,722.50 C478.00,726.50 480.25,730.50 483.00,734.50 C485.75,738.50 489.00,743.12 492.00,746.50 C495.00,749.88 498.50,752.75 501.00,754.75 C503.50,756.75 506.00,757.88 507.00,758.50" fill="none" stroke="#56b0e0" stroke-width="5.80" stroke-linecap="round" stroke-linejoin="round"/>
<path d="M506.80,758.40 L522.38,764.17" stroke="#0f3652" stroke-width="4.70" fill="none"/><path d="M506.33,758.23 L521.25,763.75" stroke="#56b0e0" stroke-width="2.30" fill="none"/>
<!-- vertical loop -->
<path d="M404.30,638.00 C403.67,639.00 401.33,641.67 400.50,644.00 C399.67,646.33 399.33,649.33 399.30,652.00 C399.27,654.67 399.65,657.25 400.30,660.00 C400.95,662.75 402.72,667.08 403.20,668.50" fill="none" stroke="#0f3652" stroke-width="5.60" stroke-linecap="round" stroke-linejoin="round"/><path d="M404.30,638.00 C403.67,639.00 401.33,641.67 400.50,644.00 C399.67,646.33 399.33,649.33 399.30,652.00 C399.27,654.67 399.65,657.25 400.30,660.00 C400.95,662.75 402.72,667.08 403.20,668.50" fill="none" stroke="#56b0e0" stroke-width="3.10" stroke-linecap="round" stroke-linejoin="round"/>
<path d="M405.70,638.00 C406.33,639.00 408.67,641.67 409.50,644.00 C410.33,646.33 410.67,649.33 410.70,652.00 C410.73,654.67 410.35,657.25 409.70,660.00 C409.05,662.75 407.28,667.08 406.80,668.50" fill="none" stroke="#0f3652" stroke-width="5.60" stroke-linecap="round" stroke-linejoin="round"/><path d="M405.70,638.00 C406.33,639.00 408.67,641.67 409.50,644.00 C410.33,646.33 410.67,649.33 410.70,652.00 C410.73,654.67 410.35,657.25 409.70,660.00 C409.05,662.75 407.28,667.08 406.80,668.50" fill="none" stroke="#56b0e0" stroke-width="3.10" stroke-linecap="round" stroke-linejoin="round"/>
<!-- top V -->
<path d="M390.00,609.00 C390.67,610.17 392.67,613.50 394.00,616.00 C395.33,618.50 396.79,621.25 398.00,624.00 C399.21,626.75 400.42,630.33 401.25,632.50 C402.08,634.67 402.71,636.25 403.00,637.00" fill="none" stroke="#0f3652" stroke-width="7.00" stroke-linecap="round" stroke-linejoin="round"/><path d="M390.00,609.00 C390.67,610.17 392.67,613.50 394.00,616.00 C395.33,618.50 396.79,621.25 398.00,624.00 C399.21,626.75 400.42,630.33 401.25,632.50 C402.08,634.67 402.71,636.25 403.00,637.00" fill="none" stroke="#56b0e0" stroke-width="4.50" stroke-linecap="round" stroke-linejoin="round"/>
<path d="M420.00,608.00 C419.25,609.17 417.00,612.33 415.50,615.00 C414.00,617.67 412.28,621.08 411.00,624.00 C409.72,626.92 408.55,630.33 407.80,632.50 C407.05,634.67 406.72,636.25 406.50,637.00" fill="none" stroke="#0f3652" stroke-width="7.00" stroke-linecap="round" stroke-linejoin="round"/><path d="M420.00,608.00 C419.25,609.17 417.00,612.33 415.50,615.00 C414.00,617.67 412.28,621.08 411.00,624.00 C409.72,626.92 408.55,630.33 407.80,632.50 C407.05,634.67 406.72,636.25 406.50,637.00" fill="none" stroke="#56b0e0" stroke-width="4.50" stroke-linecap="round" stroke-linejoin="round"/>
<path d="M400.3,636.3 H409.7" fill="none" stroke="#0f3652" stroke-width="5.60" stroke-linecap="round" stroke-linejoin="round"/><path d="M400.3,636.3 H409.7" fill="none" stroke="#56b0e0" stroke-width="3.10" stroke-linecap="round" stroke-linejoin="round"/>
</g>

<!-- 39_c9.svg -->
<g id="c9">
<use href="#shoeB" transform="translate(646.2,570)"/>
<g>
<use href="#eye" x="616.3" y="652.2"/><use href="#eye" x="617.7" y="670.75"/><use href="#eye" x="617.7" y="696.9"/><use href="#eye" x="617" y="712.7"/><use href="#eye" x="615.6" y="732"/>
<use href="#eye" x="676.15" y="652.2"/><use href="#eye" x="674.1" y="670.75"/><use href="#eye" x="674.1" y="697.6"/><use href="#eye" x="674.8" y="714.8"/><use href="#eye" x="677.5" y="733.35"/>
</g>
<path d="M629,730.6 H663.5" fill="none" stroke="#0f3652" stroke-width="6.60" stroke-linecap="butt" stroke-linejoin="round"/><path d="M629,730.6 H663.5" fill="none" stroke="#56b0e0" stroke-width="4.10" stroke-linecap="butt" stroke-linejoin="round"/>
<path d="M675.62,732.41 L635.00,712.00" fill="none" stroke="#0f3652" stroke-width="7.00" stroke-linecap="round" stroke-linejoin="round"/><path d="M675.62,732.41 L635.00,712.00" fill="none" stroke="#56b0e0" stroke-width="4.50" stroke-linecap="round" stroke-linejoin="round"/>
<path d="M617.58,731.31 L657.00,717.50" fill="none" stroke="#0f3652" stroke-width="7.00" stroke-linecap="round" stroke-linejoin="round"/><path d="M617.58,731.31 L657.00,717.50" fill="none" stroke="#56b0e0" stroke-width="4.50" stroke-linecap="round" stroke-linejoin="round"/>
<path d="M672.07,698.14 L619.03,712.16" fill="none" stroke="#0f3652" stroke-width="7.00" stroke-linecap="round" stroke-linejoin="round"/><path d="M672.07,698.14 L619.03,712.16" fill="none" stroke="#56b0e0" stroke-width="4.50" stroke-linecap="round" stroke-linejoin="round"/>
<path d="M619.70,697.53 L672.80,714.17" fill="none" stroke="#0f3652" stroke-width="7.00" stroke-linecap="round" stroke-linejoin="round"/><path d="M619.70,697.53 L672.80,714.17" fill="none" stroke="#56b0e0" stroke-width="4.50" stroke-linecap="round" stroke-linejoin="round"/>
<path d="M622.5,680.4 L661,693.5" fill="none" stroke="#0f3652" stroke-width="7.00" stroke-linecap="round" stroke-linejoin="round"/><path d="M622.5,680.4 L661,693.5" fill="none" stroke="#56b0e0" stroke-width="4.50" stroke-linecap="round" stroke-linejoin="round"/>
<path d="M672.29,671.81 L632.00,695.50" fill="none" stroke="#0f3652" stroke-width="7.00" stroke-linecap="round" stroke-linejoin="round"/><path d="M672.29,671.81 L632.00,695.50" fill="none" stroke="#56b0e0" stroke-width="4.50" stroke-linecap="round" stroke-linejoin="round"/>
<path d="M618.40,652.20 L674.05,652.20" fill="none" stroke="#0f3652" stroke-width="7.00" stroke-linecap="round" stroke-linejoin="round"/><path d="M618.40,652.20 L674.05,652.20" fill="none" stroke="#56b0e0" stroke-width="4.50" stroke-linecap="round" stroke-linejoin="round"/>
<path d="M619.63,669.92 L644.00,659.50" fill="none" stroke="#0f3652" stroke-width="7.00" stroke-linecap="round" stroke-linejoin="round"/><path d="M619.63,669.92 L644.00,659.50" fill="none" stroke="#56b0e0" stroke-width="4.50" stroke-linecap="round" stroke-linejoin="round"/>
<!-- free laces -->
<path d="M648.50,658.50 C646.38,660.07 640.08,664.98 635.80,667.90 C631.52,670.82 627.13,673.57 622.80,676.00 C618.47,678.43 613.87,680.20 609.80,682.50 C605.73,684.80 601.92,686.82 598.40,689.80 C594.88,692.78 591.63,696.47 588.65,700.40 C585.67,704.33 582.94,709.07 580.50,713.40 C578.06,717.73 576.17,721.80 574.00,726.40 C571.83,731.00 569.67,736.40 567.50,741.00 C565.33,745.60 562.90,750.47 561.00,754.00 C559.10,757.53 556.92,760.83 556.10,762.20" fill="none" stroke="#0f3652" stroke-width="8.30" stroke-linecap="round" stroke-linejoin="round"/><path d="M648.50,658.50 C646.38,660.07 640.08,664.98 635.80,667.90 C631.52,670.82 627.13,673.57 622.80,676.00 C618.47,678.43 613.87,680.20 609.80,682.50 C605.73,684.80 601.92,686.82 598.40,689.80 C594.88,692.78 591.63,696.47 588.65,700.40 C585.67,704.33 582.94,709.07 580.50,713.40 C578.06,717.73 576.17,721.80 574.00,726.40 C571.83,731.00 569.67,736.40 567.50,741.00 C565.33,745.60 562.90,750.47 561.00,754.00 C559.10,757.53 556.92,760.83 556.10,762.20" fill="none" stroke="#56b0e0" stroke-width="5.80" stroke-linecap="round" stroke-linejoin="round"/>
<path d="M556.20,762.00 L543.08,776.08" stroke="#0f3652" stroke-width="4.70" fill="none"/><path d="M556.54,761.63 L543.90,775.20" stroke="#56b0e0" stroke-width="2.30" fill="none"/>
<path d="M643.00,654.50 C643.85,655.08 645.62,656.07 648.10,658.00 C650.58,659.93 654.37,663.52 657.90,666.10 C661.43,668.68 665.51,671.18 669.30,673.50 C673.09,675.82 677.13,677.83 680.65,680.00 C684.17,682.17 687.56,683.93 690.40,686.50 C693.24,689.07 695.67,692.02 697.70,695.40 C699.73,698.78 701.24,702.73 702.60,706.80 C703.96,710.87 704.77,715.47 705.85,719.80 C706.93,724.13 707.61,728.73 709.10,732.80 C710.59,736.87 712.77,740.95 714.80,744.20 C716.83,747.45 720.22,750.95 721.30,752.30" fill="none" stroke="#0f3652" stroke-width="8.30" stroke-linecap="round" stroke-linejoin="round"/><path d="M643.00,654.50 C643.85,655.08 645.62,656.07 648.10,658.00 C650.58,659.93 654.37,663.52 657.90,666.10 C661.43,668.68 665.51,671.18 669.30,673.50 C673.09,675.82 677.13,677.83 680.65,680.00 C684.17,682.17 687.56,683.93 690.40,686.50 C693.24,689.07 695.67,692.02 697.70,695.40 C699.73,698.78 701.24,702.73 702.60,706.80 C703.96,710.87 704.77,715.47 705.85,719.80 C706.93,724.13 707.61,728.73 709.10,732.80 C710.59,736.87 712.77,740.95 714.80,744.20 C716.83,747.45 720.22,750.95 721.30,752.30" fill="none" stroke="#56b0e0" stroke-width="5.80" stroke-linecap="round" stroke-linejoin="round"/>
<path d="M721.10,752.10 L736.80,766.10" stroke="#0f3652" stroke-width="4.70" fill="none"/><path d="M720.73,751.77 L735.90,765.30" stroke="#56b0e0" stroke-width="2.30" fill="none"/>
<!-- knot -->
<path d="M641.50,648.00 C641.92,649.17 643.17,652.67 644.00,655.00 C644.83,657.33 645.92,659.67 646.50,662.00 C647.08,664.33 647.33,667.83 647.50,669.00" fill="none" stroke="#0f3652" stroke-width="6.40" stroke-linecap="round" stroke-linejoin="round"/><path d="M641.50,648.00 C641.92,649.17 643.17,652.67 644.00,655.00 C644.83,657.33 645.92,659.67 646.50,662.00 C647.08,664.33 647.33,667.83 647.50,669.00" fill="none" stroke="#56b0e0" stroke-width="3.90" stroke-linecap="round" stroke-linejoin="round"/>
<path d="M651,648.500 C649,651 646.500,653.500 644,655.500" fill="none" stroke="#0f3652" stroke-width="5.60" stroke-linecap="round" stroke-linejoin="round"/><path d="M651,648.500 C649,651 646.500,653.500 644,655.500" fill="none" stroke="#56b0e0" stroke-width="3.10" stroke-linecap="round" stroke-linejoin="round"/>
</g>

<!-- 80_deco.svg -->
<g id="deco" stroke-linecap="round" stroke-linejoin="round">
<!-- yellow blob (cell 1) -->
<g stroke="#1c1a05" stroke-width="1.4">
<circle cx="267" cy="133.5" r="5.3" fill="#f4e93d"/>
<ellipse cx="254.3" cy="142.6" rx="15.4" ry="13.6" transform="rotate(-38 254.3 142.6)" fill="#f4e93d"/>
<circle cx="267" cy="133.5" r="4.6" fill="#f4e93d" stroke="none"/>
<path d="M245.2,145 C245.800,149 248,151.800 251.200,151.600" fill="none" stroke-width="1.200"/>
<circle cx="250.5" cy="140.9" r="0.9" fill="#1c1a05" stroke="none"/><circle cx="256.1" cy="147.6" r="0.9" fill="#1c1a05" stroke="none"/>
<circle cx="256.1" cy="135.2" r="1.5" fill="#f8f0a0" stroke-width="1"/><circle cx="260.2" cy="139" r="1.5" fill="#f8f0a0" stroke-width="1"/>
<circle cx="246.4" cy="127.4" r="1.3" fill="#fff" stroke-width="1.100"/><circle cx="251.300" cy="125.900" r="1.300" fill="#fff" stroke-width="1.100"/>
<circle cx="261.400" cy="157" r="1.300" fill="#fff" stroke-width="1.100"/><circle cx="265.100" cy="154.400" r="1.300" fill="#fff" stroke-width="1.100"/>
<path d="M262.500,130.500 L264,132.300" fill="none" stroke-width="1.300"/>
</g>
<!-- pink berry (cell 2) -->
<g stroke="#33102b" stroke-width="1.4">
<circle cx="501.3" cy="131.5" r="14" fill="#eb7db2"/>
<g stroke="#17551b" stroke-width="1.2" fill="#4fbb4c">
<path d="M507.500,118.500 C508.500,113.500 511,109.500 514.800,108.200 C516,112 515,116.500 512.500,120.500 Z"/>
<path d="M510.500,120 C513.500,117.500 516.500,117 518.500,118.500 C517.500,121.500 514.500,123 511.500,123.500 Z"/>
<path d="M510,123.500 C513.500,122.500 517,123.500 518.800,125.500 C516.500,127.500 512.500,127.500 509.500,126.500 Z"/>
<path d="M506.500,118 C508,121 509,124 509.500,127.500" fill="none"/>
</g>
<circle cx="500.5" cy="121.400" r="1.100" fill="#33102b" stroke="none"/>
<path d="M497.800,126.500 C497.500,128.500 499,129.800 500.800,129.200 M503,130.500 C502.700,132.700 504.300,134 506.200,133.300 M496,134 C495.500,136.200 497,137.500 499,136.800" fill="none" stroke-width="1.200"/>
</g>
<!-- bee (cell 5) -->
<g stroke="#2b2606" stroke-width="1.300">
<path d="M488.300,410.700 L485.600,417 M498,408.900 L501.700,413" fill="none" stroke-width="1.200"/>
<circle cx="485.600" cy="417.300" r="2.300" fill="#fbf7c8"/><circle cx="501.900" cy="413.200" r="2.300" fill="#fbf7c8"/>
<ellipse cx="478.900" cy="395" rx="5.800" ry="4.500" transform="rotate(28 478.900 395)" fill="#efe74c"/>
<ellipse cx="484.600" cy="399.200" rx="3.200" ry="3" fill="#efe74c"/>
<ellipse cx="507.600" cy="393.900" rx="6.300" ry="5" transform="rotate(-28 507.600 393.900)" fill="#efe74c"/>
<ellipse cx="502.700" cy="399.300" rx="3.800" ry="3.600" fill="#efe74c"/>
<ellipse cx="492.400" cy="404" rx="5.500" ry="6.600" fill="#e89cc0" stroke="#3a1030"/>
<path d="M489.500,402.500 L491,401.500 M492,406 C493,405 494.500,405.300 494.800,406.800 M493.200,407.500 L493.200,409" fill="none" stroke="#3a1030" stroke-width="1.100"/>
</g>
<!-- pink bow (cell 7) -->
<g stroke="#3a0f2a" stroke-width="3" fill="#3a0f2a">
<ellipse cx="61" cy="623.2" rx="7" ry="3.8" transform="rotate(8 61 623.2)"/>
<ellipse cx="63.3" cy="630.8" rx="5.6" ry="4.4" transform="rotate(-35 63.3 630.8)"/>
<ellipse cx="79.8" cy="614.6" rx="7" ry="3.8" transform="rotate(-14 79.8 614.6)"/>
<ellipse cx="82.6" cy="623.2" rx="5.8" ry="4.2"/>
<path d="M61,597.500 C65.500,596.500 70,599.500 70.500,604 C70.800,607 70.500,609 71.500,611.500 L73.500,617 L66,618.500 L65.500,612 C64,610 60.500,609 59.500,605.500 C58.500,601.500 59,598.500 61,597.500 Z"/>
<ellipse cx="72.3" cy="621.8" rx="5" ry="5.900" transform="rotate(15 72.300 621.800)"/>
</g>
<g fill="#ee8cc0" stroke="none">
<ellipse cx="61" cy="623.2" rx="7" ry="3.8" transform="rotate(8 61 623.2)"/>
<ellipse cx="63.3" cy="630.8" rx="5.6" ry="4.4" transform="rotate(-35 63.3 630.8)"/>
<ellipse cx="79.8" cy="614.6" rx="7" ry="3.8" transform="rotate(-14 79.8 614.6)"/>
<ellipse cx="82.6" cy="623.2" rx="5.8" ry="4.2"/>
<path d="M61,597.500 C65.500,596.500 70,599.500 70.500,604 C70.800,607 70.500,609 71.500,611.500 L73.500,617 L66,618.500 L65.500,612 C64,610 60.500,609 59.500,605.500 C58.500,601.500 59,598.500 61,597.500 Z"/>
<ellipse cx="72.3" cy="621.8" rx="5" ry="5.900" transform="rotate(15 72.300 621.800)"/>
</g>
<g stroke="#3a0f2a" fill="none" stroke-width="1.1"><path d="M66.500,611 L71,609.800 M67.500,619 C67,622 67.500,625 69,627.500 M76.500,618.500 C77.500,621 77.500,624 76.500,626.500"/><circle cx="71" cy="619.500" r="0.900" fill="#3a0f2a" stroke="none"/><circle cx="73.300" cy="624" r="0.900" fill="#3a0f2a" stroke="none"/></g>
<!-- yellow drop (cell 8) -->
<g stroke="#1c1a05" stroke-width="1.300">
<path d="M491.300,670 L487.500,673.400" stroke-width="3.200" fill="none"/><path d="M491.300,670 L487.500,673.400" stroke="#e8eef0" stroke-width="1.200" fill="none"/>
<path d="M501.500,671.500 L501.300,677.300" stroke-width="3.200" fill="none"/><path d="M501.500,671.500 L501.300,677.300" stroke="#e8eef0" stroke-width="1.200" fill="none"/>
<path d="M495,648.400 C492.500,654 489.500,660 490,664.500 C490.800,669 495,671.600 499,671.400 C505,671 509,667.500 508.700,663.500 C508.200,657 499,654.500 495,648.400 Z" fill="#f5e83a"/>
<circle cx="494.400" cy="663.200" r="0.800" fill="none" stroke-width="0.800"/><circle cx="498.100" cy="662.500" r="0.800" fill="none" stroke-width="0.800"/>
<path d="M504.800,659.500 C505.800,660.500 506,662 505.500,663" fill="none"/>
</g>
</g>

<!-- 90_labels.svg -->
<g class="lbl" font-size="24.7">
<text x="125.7" y="307" textLength="56.5" lengthAdjust="spacingAndGlyphs">Step 1</text>
<text x="358.8" y="305.7" textLength="100.8" lengthAdjust="spacingAndGlyphs">Cirst Ceep</text>
<text x="122.9" y="538.1" textLength="61.3" lengthAdjust="spacingAndGlyphs">Step 5</text>
<text x="382.4" y="532.6" textLength="61.3" lengthAdjust="spacingAndGlyphs">Step 6</text>
<text x="620.1" y="529.8" textLength="96.3" lengthAdjust="spacingAndGlyphs">Bunny ear</text>
</g>

</svg>
</body></html>
